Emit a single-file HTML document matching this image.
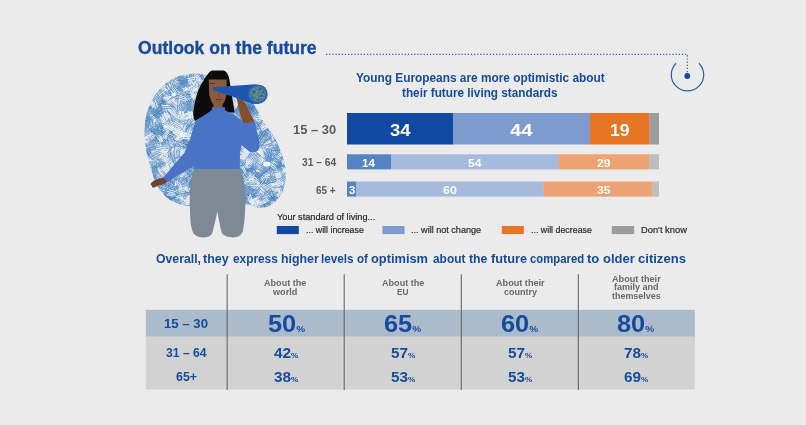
<!DOCTYPE html>
<html><head><meta charset="utf-8">
<style>
html,body{margin:0;padding:0;}
body{width:806px;height:425px;background:#ebebeb;position:relative;overflow:hidden;font-family:"Liberation Sans",sans-serif;}
.t{position:absolute;white-space:nowrap;line-height:1;transform-origin:0 0;}
.b{font-weight:bold;}
.blue{color:#164a9c;}
.gry{color:#5a5a5a;}
.lg{color:#262626;-webkit-text-stroke:0.2px #262626;}
.chd{color:#66686b;}
.w{color:#fff;font-weight:bold;}
.seg{position:absolute;}
.ch{position:absolute;font-size:8px;line-height:8.7px;color:#66686b;font-weight:bold;text-align:center;white-space:nowrap;transform:translateX(-50%) scaleX(0.97);}
.big i{font-size:9.5px;font-style:normal;}
.mid i{font-size:7.5px;font-style:normal;}
</style></head><body>
<svg width="806" height="425" viewBox="0 0 806 425" style="position:absolute;left:0;top:0">
<rect x="145.8" y="336" width="549" height="53.5" fill="#d2d2d2"/><rect x="145.8" y="309.8" width="549" height="26.7" fill="#acbbcc"/>
<defs><clipPath id="bc"><path d="M202.0 74.2C197.1 73.2 195.8 73.6 192.3 73.8C188.8 74.0 184.5 74.6 181.0 75.6C177.5 76.6 174.2 78.0 171.1 79.8C168.0 81.6 165.2 83.7 162.6 86.2C160.0 88.7 157.6 91.7 155.5 94.7C153.4 97.8 151.4 101.2 149.9 104.5C148.4 107.8 147.2 111.0 146.4 114.4C145.6 117.8 145.2 120.6 144.9 125.0C144.6 129.4 144.4 136.5 144.7 141.0C145.0 145.5 145.5 147.7 146.5 152.0C147.5 156.3 148.9 161.7 150.5 167.0C152.1 172.3 153.9 179.1 156.0 183.6C158.1 188.1 160.5 191.0 163.3 194.0C166.1 197.0 168.8 199.5 173.0 201.5C177.2 203.5 181.5 205.2 188.5 206.0C195.5 206.8 205.4 206.8 215.0 206.5C224.6 206.2 238.9 203.9 246.2 204.2C253.5 204.5 254.4 208.3 258.9 208.2C263.4 208.1 269.0 206.6 273.0 203.7C277.0 200.8 280.8 195.9 282.9 191.0C285.0 186.1 285.9 179.7 285.9 174.0C285.9 168.3 284.8 163.1 282.9 157.0C281.0 150.9 277.5 142.9 274.4 137.3C271.3 131.7 267.1 127.4 264.5 123.2C261.9 119.0 260.6 115.5 258.5 112.0C256.4 108.5 255.1 105.8 252.0 102.5C248.9 99.2 245.0 95.8 240.0 92.0C235.0 88.2 228.3 83.0 222.0 80.0C215.7 77.0 206.9 75.2 202.0 74.2Z"/></clipPath></defs>
<filter id="sf" x="-5%" y="-5%" width="110%" height="110%"><feGaussianBlur stdDeviation="0.28"/></filter>
<g clip-path="url(#bc)"><g filter="url(#sf)">
<rect x="140" y="66" width="150" height="146" fill="#dfe6ef"/>
<path d="M239.3 173.3L231.8 179.6M237.3 172.2L228.5 179.8M236.8 170.8L227.8 178.3M276.8 122.2L263.9 131.6M275.7 122.1L265.7 127.8M276.5 118.5L263.6 127.9M291.2 122.4L285.9 128.9M287.8 123.2L282.9 129.2M286.6 122.7L282.2 127.1M285.9 120.4L280.6 127.7M284.5 118.3L279.7 124.8M153.8 96.7L146.1 101.8M152.6 96.0L144.7 101.3M152.9 94.1L146.2 97.8M152.1 92.1L143.6 97.0M150.1 91.4L144.3 95.3M149.8 90.0L141.4 95.5M154.5 210.2L146.3 215.3M154.5 206.9L143.6 215.6M152.5 207.4L141.8 214.4M151.9 206.1L143.2 211.6M152.7 203.5L140.3 211.4M290.8 132.3L290.7 138.6M289.1 128.8L288.9 137.9M287.1 130.5L287.3 138.2M285.2 128.8L285.8 137.4M283.6 129.6L283.8 136.6M281.9 132.2L281.7 139.0M245.6 200.6L252.2 205.2M245.1 201.9L251.0 206.4M246.0 204.5L251.5 208.6M243.2 205.2L249.6 209.0M241.6 206.6L247.6 211.2M190.2 80.7L180.5 85.6M188.4 79.6L178.3 86.0M187.7 78.5L180.0 83.2M187.3 76.7L179.1 81.9M187.1 75.3L176.6 80.7M176.8 193.8L180.3 204.4M174.3 192.0L178.6 204.5M173.1 192.6L176.0 202.7M224.4 138.1L216.5 139.9M225.3 136.7L216.7 137.9M226.3 134.3L216.5 136.3M224.3 133.8L214.6 134.7M278.4 150.6L282.7 155.9M275.3 149.0L280.3 155.1M274.6 150.8L278.9 155.3M274.4 152.9L278.9 157.7M272.8 152.8L278.4 159.2M271.2 154.0L277.4 160.6M276.8 193.0L270.1 200.1M274.6 192.6L269.2 198.5M274.0 189.8L266.9 198.5M271.5 190.7L264.1 198.5M270.5 188.3L262.0 196.9M218.1 164.8L209.8 175.0M217.4 163.3L208.9 174.8M216.2 162.8L208.7 172.3M215.2 161.0L207.1 172.2M214.0 161.0L205.0 171.3M213.9 159.9L203.7 170.5M242.6 71.1L251.8 78.2M240.7 71.5L249.6 79.2M240.9 74.1L250.0 82.1M238.1 74.2L249.6 82.6M155.8 161.7L158.0 172.6M154.3 162.7L156.8 172.2M152.3 163.0L155.8 173.5M150.4 161.8L154.2 173.4M241.9 159.8L253.3 162.8M240.1 161.0L252.2 164.4M240.7 163.0L255.0 166.8M255.2 171.8L266.2 174.2M254.9 172.8L265.8 175.6M254.4 174.0L266.6 178.0M254.3 175.9L266.0 179.2M253.7 178.1L265.0 180.4M253.1 178.0L262.1 181.1M217.9 179.4L212.7 182.2M217.4 178.8L212.6 181.6M216.0 177.1L211.2 179.6M213.9 176.8L208.5 179.1M213.7 174.5L208.1 176.9M213.1 173.8L208.0 176.2M256.4 93.8L247.9 100.7M254.9 92.1L244.7 99.4M254.9 90.2L246.7 96.3M254.5 88.1L244.7 95.9M252.9 87.4L244.6 93.2M252.6 84.9L240.3 93.9M182.2 183.7L175.9 189.0M182.6 181.4L174.8 188.3M180.3 181.6L173.8 187.5M180.4 180.2L173.1 185.2M176.5 180.0L171.0 185.1M177.0 177.7L170.2 183.4M240.0 173.9L229.2 176.5M240.3 172.6L230.5 174.6M239.0 171.3L227.2 173.3M238.0 170.0L229.4 171.4M258.3 189.5L265.0 200.7M256.3 189.0L263.5 202.4M253.9 189.6L261.4 201.8M159.3 73.6L163.2 80.7M158.2 75.4L162.4 83.0M156.9 76.9L161.7 83.5M191.6 89.3L200.6 93.9M190.6 90.2L198.7 94.6M187.7 90.9L198.0 95.6M189.4 93.8L196.9 97.1M273.0 166.6L267.5 171.6M271.0 166.4L265.6 171.7M270.5 165.2L262.9 171.5M269.5 163.5L263.9 168.1M268.9 161.2L263.9 166.5M246.9 193.0L253.2 197.2M244.2 192.7L252.0 198.5M242.8 194.0L250.8 200.0M243.2 196.4L250.7 202.1M243.0 198.0L250.3 204.2M221.7 73.9L227.2 78.6M222.6 75.9L227.7 80.8M221.7 77.6L226.4 81.8M219.9 78.7L226.7 84.7M264.5 169.0L271.2 176.3M264.0 172.0L270.0 177.7M262.4 172.3L267.3 178.0M260.5 174.0L267.7 180.8M162.0 108.7L151.0 117.6M161.8 107.9L149.7 115.8M159.9 106.4L150.0 113.7M275.0 107.5L279.4 113.1M274.1 108.4L278.6 114.1M274.5 111.3L278.0 115.6M273.3 112.7L277.0 117.8M271.9 113.9L275.6 118.7M272.2 136.0L267.6 141.8M269.7 136.8L265.0 142.4M268.2 134.6L263.9 141.4M267.5 133.4L264.2 138.1M265.2 133.0L261.2 139.2M201.4 143.8L205.8 150.1M198.3 143.6L203.1 149.8M196.7 144.4L203.7 153.1M187.1 139.3L183.0 146.0M186.9 136.6L182.6 143.8M186.2 136.0L181.2 141.9M221.6 121.7L224.3 125.0M219.6 122.5L223.3 126.6M219.7 124.8L222.9 129.0M155.9 111.0L150.3 111.8M156.3 109.0L150.3 110.4M155.5 108.2L149.9 108.6M264.6 194.1L268.2 205.7M262.2 193.2L267.2 204.4M260.1 193.6L265.9 205.8M259.9 196.0L263.9 205.4M277.9 198.8L270.3 200.6M278.2 197.6L272.4 198.3M276.7 196.2L271.3 197.1M276.5 194.2L271.4 195.4M277.7 192.4L271.6 193.4M275.5 191.1L269.8 191.9M183.6 148.4L178.4 150.0M184.0 146.0L178.9 148.1M182.2 145.0L178.1 146.4M208.1 153.4L214.8 167.9M208.2 156.4L213.2 169.0M206.7 155.5L210.9 168.6M204.9 156.6L209.5 169.1M203.6 158.8L208.1 168.6M200.7 156.0L207.1 170.9M183.0 175.5L188.2 180.1M182.0 177.3L187.5 181.7M180.1 178.5L184.6 181.9M179.0 179.9L184.6 184.5M178.1 180.7L183.1 184.8M177.0 182.6L182.3 187.0M253.1 170.3L242.2 176.6M253.4 168.0L240.0 175.6M250.9 167.7L239.7 173.3M286.0 112.0L279.5 119.7M286.1 110.4L278.4 117.5M284.9 108.8L277.8 116.2M222.7 202.5L215.2 210.4M222.5 201.6L213.2 210.4M221.4 199.3L212.0 209.1M219.6 199.4L209.6 209.2M217.1 200.1L208.7 208.0M247.5 102.6L255.5 106.7M245.4 102.9L256.1 109.8M243.0 104.0L252.7 108.8M243.8 106.1L253.0 110.5M242.4 107.5L254.2 113.9M152.4 175.8L160.8 178.7M153.3 177.8L161.1 181.2M149.1 179.0L160.0 182.5M170.8 189.9L176.4 196.1M169.0 191.1L174.1 197.0M166.9 190.5L172.2 196.8M166.7 193.6L171.9 199.3M165.2 193.8L171.0 200.2M163.8 194.9L169.5 201.7M188.1 193.3L185.0 199.6M186.9 192.4L183.9 199.1M185.6 191.2L183.1 197.9M194.2 175.6L201.2 178.6M192.0 177.2L200.2 180.2M191.9 179.5L200.5 182.1M189.8 180.0L198.0 183.4M261.5 68.2L272.7 78.5M262.1 72.1L271.1 79.5M260.6 72.2L270.6 81.7M259.4 73.8L268.3 82.1M193.8 150.2L199.3 155.2M193.8 151.9L199.0 157.3M191.8 152.2L196.8 157.7M236.9 188.7L235.6 193.3M235.8 185.2L234.3 190.2M234.6 184.3L232.8 189.4M232.3 185.1L230.3 189.4M279.6 166.8L272.4 170.9M278.1 165.4L272.5 169.1M276.2 164.3L268.6 169.1M264.7 171.7L267.4 177.7M262.7 171.3L265.0 176.7M261.0 170.8L263.8 176.9M147.8 151.8L137.2 152.4M149.0 148.8L136.0 151.1M146.0 147.9L135.5 148.5M147.8 146.1L136.2 146.7M146.2 144.8L137.0 146.0M254.7 134.1L260.1 135.8M253.4 136.0L259.9 137.4M252.4 137.4L258.6 139.5M251.9 139.4L257.9 141.0M252.1 141.1L257.5 142.4M147.0 159.8L156.1 167.7M146.8 162.0L155.6 169.0M143.5 162.1L155.7 170.8M248.3 135.9L242.3 139.5M247.3 134.3L240.9 138.0M246.5 132.1L240.5 136.2M244.3 131.6L238.5 135.3M243.8 129.6L238.4 133.0M248.7 73.7L253.7 75.6M247.8 75.1L252.6 76.6M246.6 76.3L252.9 79.0M234.3 185.9L235.9 192.8M232.4 186.5L234.0 193.6M231.1 188.2L233.1 194.8M184.5 88.1L187.0 97.1M183.3 90.4L185.5 96.9M182.2 90.4L184.5 99.4M180.1 89.9L182.8 97.5M178.3 90.5L181.5 99.1M177.1 90.6L179.6 98.0M276.3 203.9L282.6 214.1M275.9 205.7L281.0 216.9M274.7 208.4L279.8 217.4M209.3 180.7L201.1 187.7M209.0 178.6L197.6 187.7M208.7 177.0L198.7 183.8M208.4 175.6L197.0 182.8M206.3 173.8L196.6 182.1M206.5 171.3L194.7 179.9M193.3 102.6L199.1 107.9M190.6 103.4L197.0 108.3M188.7 104.5L197.2 110.5M188.0 105.9L195.3 112.0M188.2 108.9L194.5 113.8M190.7 100.8L185.9 112.9M188.2 100.2L185.9 109.2M187.0 99.3L182.6 111.0M227.9 112.6L239.4 119.8M225.8 113.2L236.3 120.0M225.0 115.0L235.2 121.6M224.7 115.5L234.0 123.0M265.6 124.8L256.3 129.5M265.9 122.7L257.7 126.6M265.3 120.7L257.5 124.5M263.5 119.8L255.1 123.9M202.8 187.6L195.7 190.5M200.7 186.0L193.8 189.4M201.1 183.9L194.9 186.7M180.5 90.0L168.3 94.4M179.4 88.1L166.6 94.2M179.1 87.3L165.1 92.1M195.6 174.2L194.2 185.2M193.1 171.4L192.2 184.9M191.7 173.2L190.0 182.7M189.6 172.2L188.8 184.9M187.6 172.6L186.3 185.7M190.1 103.1L195.8 108.0M187.7 104.0L193.8 109.0M186.5 104.6L191.2 109.3M185.1 105.2L191.6 111.3M275.3 115.6L267.7 118.9M275.1 113.4L268.3 116.2M275.3 110.8L267.1 114.7M190.6 78.4L192.3 85.8M188.0 78.9L189.6 86.4M186.1 77.3L188.5 85.8M184.2 77.4L186.7 86.4M182.1 76.3L184.5 85.7M180.5 78.1L182.1 87.5M273.7 100.7L281.8 110.4M273.2 103.6L278.8 109.7M270.8 103.3L278.9 112.2M200.0 167.9L194.0 174.0M197.8 166.1L192.0 171.8M198.4 164.4L190.2 171.2M196.6 163.1L189.0 170.7M195.6 161.8L187.7 169.7M192.6 161.3L185.8 168.0M235.0 128.6L227.2 134.2M233.5 127.7L226.6 133.2M233.3 125.6L226.9 130.0M197.1 109.6L203.9 118.4M195.5 108.9L201.1 117.1M194.3 110.1L199.7 118.3M193.9 112.0L198.5 120.1M192.0 112.5L198.0 122.0M234.8 182.7L222.6 185.3M235.1 180.6L222.2 183.7M234.9 178.5L223.9 181.2M258.5 167.9L253.0 172.1M256.9 166.6L251.9 170.0M255.5 165.3L250.2 169.4M255.0 163.8L250.7 167.2M234.4 205.7L230.8 213.8M233.6 202.9L229.3 213.4M231.1 204.1L227.4 213.2M230.4 202.2L226.8 211.9M166.7 185.2L161.5 190.6M163.0 186.0L159.4 189.7M162.9 184.2L158.1 188.9M161.5 182.7L157.4 187.5M160.8 182.2L156.5 186.3M159.6 179.5L155.7 183.0M232.3 84.7L239.5 85.4M231.6 85.6L237.9 86.5M230.9 88.0L238.8 88.2M232.0 89.8L239.9 90.2M230.7 91.7L238.8 92.3M230.8 93.4L239.0 94.0M205.8 86.4L200.8 94.2M205.4 84.8L199.3 92.2M203.2 83.6L197.9 90.4M199.9 84.7L195.6 91.6M200.0 81.3L195.3 88.6M197.6 81.1L191.8 89.4M210.9 130.5L221.0 133.2M211.5 132.8L219.7 134.3M211.4 134.2L219.0 136.6M209.5 135.9L220.2 138.4M157.4 170.5L163.8 180.8M156.5 173.4L163.3 181.7M156.3 175.2L162.7 183.0M154.1 174.8L161.6 184.4M154.1 177.4L159.0 184.5M151.2 177.0L156.1 184.4M222.0 156.0L225.6 166.7M221.3 159.8L224.7 169.8M219.5 162.0L222.9 168.9M217.3 161.1L220.3 168.0M272.4 205.3L267.7 214.3M269.8 206.1L266.1 214.2M268.9 204.8L264.7 212.3M268.5 203.6L262.7 212.6M248.9 165.3L245.7 173.8M248.1 162.6L244.6 174.8M247.1 161.2L242.2 173.0M245.0 162.2L240.9 171.8M242.8 162.1L239.3 174.1M240.4 160.3L237.7 168.9M156.4 195.2L154.7 206.0M154.3 196.8L151.8 207.4M152.8 194.5L150.9 204.2M150.7 194.5L149.1 204.4M149.6 193.2L147.0 206.3M186.7 123.2L181.8 124.2M187.5 120.1L181.4 122.0M187.3 118.5L180.0 120.3M185.8 117.5L180.7 118.4M185.1 115.5L178.0 117.6M185.2 112.8L178.8 114.7M279.5 171.7L272.2 173.4M281.8 169.3L274.0 171.0M279.1 168.2L270.0 170.1M277.9 166.4L271.3 168.2M188.4 192.0L174.8 195.3M185.2 190.8L173.2 194.4M184.1 188.8L174.4 192.5M185.2 186.1L170.8 191.6M183.7 185.8L171.8 189.7M184.0 184.3L170.0 188.2M202.4 131.6L209.7 143.7M200.8 134.5L210.6 146.9M199.7 135.0L206.9 145.8M273.5 159.9L264.9 164.5M275.1 157.8L266.1 161.8M270.9 157.6L264.7 160.9M271.8 155.4L264.6 158.2M232.0 98.0L221.9 100.8M230.7 96.7L219.9 100.9M232.5 95.1L218.1 99.1M230.9 93.5L218.0 97.5M229.9 91.5L218.4 95.4M153.6 81.7L141.7 88.7M152.1 80.4L143.3 86.2M152.1 78.0L142.7 84.3M148.8 78.1L140.2 84.3M146.2 113.7L149.3 120.8M142.5 112.9L147.1 121.6M141.0 113.6L145.5 121.3M140.5 115.3L144.7 124.0M138.0 116.8L143.3 125.7M266.8 88.4L273.4 98.4M266.3 91.1L272.4 100.7M264.7 91.4L271.8 103.0M263.3 91.9L270.1 103.0M192.8 143.0L181.5 146.6M192.3 142.3L182.5 145.4M191.0 141.0L180.1 144.2M189.5 139.4L181.6 142.0M192.0 136.8L181.1 141.0M188.2 135.2L179.7 138.8M173.7 160.6L164.0 167.9M171.9 159.4L164.2 165.0M171.6 158.0L161.2 164.1M170.2 156.2L160.7 162.4M285.4 201.8L289.8 204.1M283.6 202.8L289.1 205.7M283.1 204.3L287.2 206.2M283.0 206.6L288.9 209.4M281.1 206.1L285.8 208.9M247.7 67.9L259.5 71.0M249.5 70.5L259.1 72.7M249.6 71.9L260.1 74.5M247.7 73.7L257.9 76.0M246.0 74.6L258.8 78.9M242.3 100.1L228.0 105.0M239.4 98.1L228.3 102.6M238.9 97.0L229.0 100.6M239.2 95.0L227.3 99.1M238.7 93.4L226.6 97.4M238.0 92.6L225.7 96.4M196.3 161.1L189.5 164.0M194.0 159.9L189.2 162.6M193.9 158.4L189.0 161.0M158.4 194.2L167.0 201.1M158.1 196.5L164.4 201.0M157.4 197.4L164.9 203.4M271.5 174.2L267.1 180.0M268.4 173.3L263.7 179.3M268.2 170.9L264.1 177.4M267.3 169.7L263.0 175.9M265.2 169.9L261.3 176.0M264.5 168.7L260.6 173.2M229.3 201.8L216.9 208.2M228.8 199.6L217.3 206.5M228.0 198.7L216.3 204.9M283.2 151.2L283.4 156.5M281.5 151.5L281.6 156.6M279.3 151.8L280.1 158.7M278.1 151.7L277.9 159.0M254.9 106.4L247.7 111.9M253.5 105.1L247.8 109.7M251.6 103.8L246.4 109.0M249.5 103.8L243.9 108.7M248.9 102.5L243.3 107.5M253.3 110.0L261.6 111.5M252.3 111.4L259.4 112.7M253.7 113.2L260.5 115.2M278.8 69.0L289.2 79.4M276.2 68.3L287.0 78.5M276.9 71.4L286.2 81.2M276.9 74.4L284.7 81.5M285.0 187.0L288.1 195.6M283.6 186.9L286.8 196.7M281.7 186.8L284.7 195.8M279.8 187.9L282.7 195.9M186.1 143.6L190.1 145.7M184.3 144.8L188.1 147.3M183.4 146.6L188.8 149.6M182.3 147.3L187.0 150.1M243.4 170.1L249.3 177.8M240.3 168.8L246.9 178.1M239.4 170.7L244.4 178.0M238.2 172.0L245.1 182.0M236.7 172.8L241.8 181.2M235.6 174.1L242.4 182.4M222.8 175.8L232.4 181.7M220.5 177.5L230.8 183.9M221.0 180.1L230.7 185.1M218.9 180.9L229.8 186.6M221.4 183.9L229.7 187.7M219.4 184.2L227.2 187.9M279.0 102.7L284.4 106.0M278.1 104.2L284.9 108.4M276.1 105.8L282.3 108.6M247.5 201.1L242.8 209.4M246.3 199.0L242.0 208.2M245.0 198.9L240.9 205.8M242.8 199.8L238.9 206.1M205.0 170.5L219.7 174.5M203.6 172.2L217.8 176.0M206.1 173.7L216.3 177.8M204.8 176.0L216.0 179.3M201.9 176.8L215.1 181.0M288.6 144.2L294.3 149.7M287.1 143.7L293.8 151.3M284.7 144.4L292.9 152.3M284.5 146.3L292.5 154.6M284.0 149.0L290.0 155.4M276.0 67.3L285.6 71.1M274.5 66.6L287.7 72.7M274.9 70.1L287.6 74.5M275.5 71.2L287.0 76.7M274.8 73.5L284.0 77.6M273.8 75.1L285.2 80.5M273.7 129.9L277.4 138.8M273.1 132.6L276.0 139.8M271.3 130.8L273.2 137.8M289.4 76.3L282.9 80.1M289.1 74.0L282.5 77.8M286.4 73.3L281.1 76.5M284.5 72.5L280.2 75.4M274.4 168.4L269.5 173.6M271.5 169.5L268.0 173.8M271.1 167.3L267.8 171.0M269.5 166.5L265.0 171.2M266.8 165.7L263.0 170.5M267.1 162.4L262.9 167.5M196.5 135.8L203.1 146.7M194.3 137.8L203.0 148.5M192.5 138.6L200.4 148.8M191.5 139.6L197.5 149.0M190.6 140.7L197.5 152.1M167.1 137.4L169.3 144.7M166.5 138.2L168.2 144.2M164.9 138.5L165.7 143.9M162.5 137.4L163.9 143.9M160.5 140.0L162.6 147.0M204.9 84.8L210.0 96.5M201.9 84.3L207.4 96.6M202.0 87.3L206.3 98.3M200.2 88.5L204.5 98.6M198.4 88.9L203.0 98.0M184.5 179.5L175.5 189.0M182.8 178.8L174.9 187.2M180.4 178.1L172.9 186.5M181.0 174.7L172.3 184.3M179.0 175.2L170.1 183.4M162.0 179.0L173.5 187.1M162.1 181.3L170.5 187.4M161.4 183.6L172.9 190.3M205.4 94.0L209.0 98.2M205.2 95.9L210.0 100.6M204.9 97.6L208.8 102.1M203.4 98.9L207.2 103.2M200.9 99.2L206.0 104.2M286.7 208.6L280.7 213.1M284.7 207.7L279.9 212.2M284.8 205.7L281.1 209.0M166.1 98.0L158.9 105.9M164.0 98.2L157.4 105.4M162.2 96.7L156.7 102.7M159.8 96.5L155.1 102.7M158.9 94.2L154.4 100.4M158.6 91.8L152.7 98.4M211.2 131.3L220.0 136.4M210.5 133.2L219.1 138.5M208.8 134.6L218.4 139.3M210.1 136.8L216.6 141.0M206.8 137.0L215.6 141.6M207.6 140.0L216.5 145.2M145.7 143.1L153.9 144.7M145.3 144.7L153.6 146.0M147.5 146.9L153.6 147.9M145.9 148.3L153.4 150.2M278.1 201.3L268.9 203.1M276.9 200.1L267.5 201.3M277.2 198.2L268.1 199.7M212.8 203.9L216.4 211.1M212.3 206.5L215.0 211.6M210.0 204.4L212.2 209.6M186.9 78.6L191.9 84.2M186.4 81.3L189.9 85.8M184.6 82.1L188.6 86.3M183.3 83.0L187.7 88.2M180.9 83.1L185.0 87.9M180.7 83.9L184.3 87.9M287.1 182.1L289.3 187.4M285.7 183.7L288.2 189.7M283.7 184.6L286.6 190.6M281.2 183.9L283.7 189.5M280.4 185.3L283.6 191.8M260.2 164.5L270.5 171.2M260.2 167.1L267.9 171.8M259.4 169.1L269.9 174.0M258.5 169.5L267.2 175.0M255.1 122.9L262.8 123.3M257.4 124.8L265.5 124.5M255.4 126.1L262.9 126.3M256.0 128.2L264.1 128.5M146.0 106.7L155.6 110.9M146.5 108.1L155.6 112.5M145.6 109.6L153.9 114.1M141.6 110.8L152.6 115.1M272.4 158.7L275.0 164.1M270.6 157.7L273.3 164.3M269.1 158.2L271.0 164.0M250.5 177.3L240.9 184.3M249.8 176.6L242.1 181.7M248.8 174.9L240.6 181.0M248.3 173.0L238.4 180.4M172.9 177.8L179.1 179.2M173.3 178.8L178.5 180.3M171.2 180.7L176.5 181.4M172.3 182.6L177.0 183.7M216.0 167.4L208.4 173.3M214.7 166.1L206.5 173.0M214.7 163.9L206.6 170.3M269.5 160.5L277.9 168.8M268.5 162.2L276.2 170.1M268.3 164.7L275.5 172.7M186.8 166.7L183.6 173.7M186.1 164.5L182.0 173.5M183.9 166.3L180.6 173.2M163.5 111.1L156.0 116.2M161.1 110.5L154.5 114.5M161.1 108.3L153.4 112.8M158.4 107.9L151.9 112.9M175.6 74.9L180.2 77.1M174.0 74.9L179.2 77.6M174.1 77.5L180.2 80.1M173.1 78.8L179.5 81.1M170.9 80.4L176.4 82.4M161.5 132.8L152.1 143.6M159.8 130.0L151.0 142.3M156.4 132.6L148.6 142.2M157.7 128.8L148.3 140.2M154.9 129.8L148.1 137.6M187.0 76.7L181.5 83.2M184.3 77.1L179.5 82.6M184.3 74.7L179.0 80.4M183.7 72.7L177.7 78.3M181.8 73.3L176.5 79.2M245.2 102.2L254.7 104.5M245.1 104.3L254.7 106.7M245.6 106.4L254.9 108.4M244.4 107.9L252.1 110.1M171.2 115.8L176.1 119.8M170.7 117.8L174.7 121.2M170.7 119.9L174.8 123.9M167.8 120.4L172.6 124.6M213.9 92.8L207.7 95.7M212.8 91.0L206.7 93.9M211.1 89.6L204.9 92.8M212.2 127.2L206.2 138.0M211.2 126.6L206.4 136.2M208.5 127.0L204.2 136.4M207.2 126.6L202.9 134.4M205.7 124.8L200.0 134.3M285.0 204.2L286.8 210.1M283.6 204.3L284.9 209.3M281.6 204.3L283.3 210.3M280.3 204.3L282.4 211.5M259.3 164.2L250.0 173.6M256.3 165.9L248.9 171.7M256.4 163.1L248.4 169.7M241.6 154.3L229.4 160.1M239.6 152.9L231.2 157.7M240.4 150.2L228.8 156.5M240.7 147.7L227.9 155.3M238.1 148.7L225.7 154.4M236.0 146.5L225.8 152.4M272.4 168.0L275.7 180.3M271.1 169.6L273.4 179.6M269.2 169.2L272.5 181.0M282.3 106.4L275.6 112.9M280.8 106.1L275.1 111.8M279.8 104.8L274.5 110.0M277.7 103.8L271.9 110.8M276.9 103.0L269.7 110.2M274.7 101.3L267.4 108.2M214.1 191.7L220.5 200.5M211.9 191.7L220.5 203.9M209.3 192.2L217.9 202.9M275.1 150.4L277.2 157.0M272.9 150.9L274.6 157.6M271.1 149.1L273.3 158.0M270.2 151.6L272.0 159.7M267.2 151.5L270.3 160.5M265.8 152.3L268.5 161.2M172.3 118.1L181.5 124.0M171.5 120.4L179.8 124.9M171.7 122.6L180.4 127.2M169.3 123.7L180.0 129.8M157.1 72.2L165.8 80.5M156.6 75.2L164.7 82.8M155.4 75.7L164.1 84.0M155.5 77.6L161.8 85.0M152.0 76.9L159.3 85.3M151.3 78.6L160.9 88.2M146.3 144.0L151.1 151.1M145.2 143.6L149.3 151.6M144.3 146.8L148.9 153.0M143.7 147.2L147.1 153.3M295.1 182.5L287.3 188.0M294.5 180.4L284.7 187.0M293.6 179.7L284.2 185.1M294.3 176.3L283.7 184.3M292.9 176.0L283.8 182.7M291.3 174.9L281.3 181.9M233.8 122.8L229.4 125.5M232.4 121.5L226.5 125.2M231.5 119.6L226.4 122.8M239.2 182.0L251.9 188.8M237.7 182.4L251.4 190.5M237.2 184.8L250.5 191.3M237.3 186.5L250.5 192.8M163.0 66.8L173.9 75.2M162.2 69.1L172.2 76.5M160.9 70.1L171.7 77.6M160.7 72.0L172.3 80.0M159.9 74.1L169.5 80.8M158.1 73.1L166.6 80.3M285.1 153.2L291.2 159.3M285.2 156.4L290.6 161.9M282.7 156.3L286.8 161.1M281.2 157.0L287.1 163.9M281.6 159.6L285.6 164.7M183.4 103.2L191.6 105.8M186.2 105.7L192.5 108.1M184.7 107.6L191.3 109.6M155.9 121.9L154.3 135.2M154.1 122.8L153.2 133.5M153.2 117.7L150.9 133.4M184.6 179.5L194.7 182.9M184.7 181.1L193.5 184.6M184.7 183.2L191.9 185.5M184.3 184.8L191.2 187.6M178.9 202.1L167.8 205.3M180.4 200.1L168.8 202.4M176.9 199.3L168.1 201.2M179.5 196.4L169.5 199.7M230.2 99.6L224.8 105.5M227.7 98.5L222.2 104.1M228.1 95.8L222.2 101.7M226.3 94.8L222.0 99.7M225.5 94.4L220.3 99.6M222.0 94.3L217.6 98.7M170.9 101.4L178.2 106.9M169.7 102.8L176.0 107.6M168.6 103.9L175.8 109.2M257.1 159.5L257.1 168.9M255.6 161.4L255.7 169.0M253.8 160.0L253.4 167.7M252.0 160.7L252.5 170.6M249.7 161.0L250.7 170.6M221.7 180.4L213.9 184.1M219.9 178.3L210.5 184.5M219.0 177.5L210.0 182.2M220.0 175.1L211.0 180.3M292.4 143.7L279.2 150.0M287.6 144.2L278.8 148.9M288.3 142.1L276.6 147.4M229.5 100.0L234.3 111.4M226.7 100.1L233.5 111.5M226.3 101.0L231.3 113.0M225.3 104.5L229.9 114.7M196.2 156.0L199.0 160.5M194.6 155.7L197.8 161.0M192.3 156.2L196.2 161.4M191.6 158.3L195.4 164.1M190.4 159.5L194.7 165.0M273.0 71.2L263.7 77.0M273.0 68.2L262.6 76.0M272.0 66.7L261.2 75.2M191.0 85.1L182.0 89.4M189.2 83.6L179.5 89.1M187.9 83.1L178.1 87.4M186.5 81.6L178.6 85.5M188.1 79.8L180.4 83.3M179.9 133.9L172.0 140.4M179.1 133.4L173.7 137.8M178.0 132.0L172.5 136.4M176.8 130.4L170.9 135.5M174.7 130.0L167.7 134.9M242.9 142.2L230.0 144.0M243.5 139.8L229.8 142.1M240.8 138.5L230.7 140.2M189.2 161.5L195.6 167.3M186.8 162.7L194.2 169.3M187.7 165.8L193.9 171.2M186.7 167.4L192.2 172.6M185.4 168.0L192.5 174.1M182.6 169.3L190.5 176.3M258.9 177.1L260.3 183.1M256.1 174.2L258.6 183.1M254.8 176.5L256.5 183.9M253.1 176.1L255.4 184.1M148.6 112.3L140.1 115.0M149.6 110.4L142.6 113.0M148.5 108.9L142.0 111.5M149.0 107.2L140.7 110.4M193.7 124.1L189.6 135.5M192.2 124.2L188.9 137.1M191.3 121.3L186.9 135.3M188.5 124.7L185.1 135.3M188.1 121.0L184.0 134.7M185.0 120.9L181.7 133.0M190.3 167.7L185.8 170.4M190.0 165.6L184.7 169.4M188.3 164.6L183.4 168.2M187.9 163.1L183.3 165.9M187.0 161.6L181.0 165.2M185.9 159.7L181.4 162.6M157.7 125.8L169.6 130.1M159.2 127.8L167.9 131.0M156.5 128.4L169.0 133.9M155.0 129.3L167.6 135.0M155.5 73.0L149.7 78.3M156.0 71.7L150.1 76.6M155.1 69.9L149.2 74.4M154.5 67.7L147.2 74.4M152.3 68.1L145.0 74.9M195.9 172.7L190.5 180.3M196.2 170.1L189.4 178.4M194.8 169.6L189.0 176.5M161.6 132.1L163.1 138.2M160.0 133.4L162.0 139.4M158.7 134.4L161.3 141.5M270.0 129.0L276.8 137.0M266.3 129.2L274.1 136.4M263.8 129.1L275.2 139.3M264.4 131.9L274.2 141.0M265.1 133.6L272.1 141.2M238.5 77.8L237.9 86.6M237.0 80.6L236.1 89.5M235.9 76.3L234.4 88.6M233.7 78.7L232.9 87.8M257.6 195.8L251.8 198.9M255.3 195.3L249.2 198.5M254.6 193.5L249.0 197.3M252.3 193.5L247.8 196.2M271.0 197.0L272.0 202.9M269.1 197.3L271.1 205.8M268.2 198.9L269.9 205.7M266.3 197.0L267.7 203.4M264.6 197.1L266.6 204.3M263.4 198.7L264.5 205.0M168.5 134.6L156.5 139.3M168.0 133.5L156.2 137.8M165.2 133.1L154.3 136.9M202.4 81.6L202.9 92.1M201.0 82.0L200.3 92.7M198.7 83.8L198.4 91.0M256.7 139.0L250.1 145.7M256.9 137.6L249.6 145.8M254.5 137.0L249.0 143.6M251.8 136.8L246.0 144.0M251.3 135.2L245.4 141.4M249.3 133.5L243.5 140.2M278.4 147.5L266.6 150.0M282.1 145.8L267.8 148.5M279.9 144.7L269.4 145.8M277.7 143.2L267.1 144.4M274.2 186.5L264.8 191.9M271.6 185.7L264.4 189.9M270.4 184.7L263.6 188.8M271.8 182.3L262.6 186.8M271.7 180.4L263.7 184.4M270.0 178.3L260.8 182.7M238.9 164.3L232.6 171.0M238.9 161.3L232.1 169.5M237.0 161.4L231.3 167.5M234.8 161.6L227.9 168.6M235.3 158.8L228.2 167.2M243.5 107.0L233.8 111.7M243.2 104.6L235.1 109.4M243.1 103.2L232.9 108.3M242.2 101.4L230.2 107.1M284.6 206.6L276.7 212.0M284.4 204.3L273.6 213.9M282.4 204.5L273.1 211.3M281.8 202.4L272.0 210.5M279.1 201.5L270.3 208.4M235.9 105.3L228.7 107.9M235.3 104.3L228.8 106.6M234.4 102.7L226.6 105.3M234.4 100.1L226.3 104.2M232.4 99.1L226.2 102.0M234.6 97.7L225.1 100.9M205.2 94.1L210.1 102.5M204.3 96.3L209.4 105.8M202.0 95.9L207.0 105.9M207.9 173.4L214.7 174.3M206.5 175.9L213.3 175.8M206.0 177.0L212.6 177.5M206.6 178.7L212.5 178.8M207.9 180.9L213.7 180.8M150.0 185.3L157.7 191.5M148.1 187.4L156.2 192.4M147.2 188.4L153.5 192.4M145.1 188.8L152.6 194.4M144.6 191.3L150.7 195.3M144.7 192.7L152.7 199.1M267.0 144.8L253.8 146.2M265.3 142.5L254.6 143.1M267.9 140.1L253.7 142.6M267.8 139.6L252.2 140.2M266.8 138.0L255.7 138.8M265.0 135.3L252.0 137.0M268.0 122.4L263.1 125.2M267.1 120.9L262.7 124.2M266.4 119.9L260.3 123.4M193.3 199.9L199.9 202.7M192.2 200.5L197.3 202.8M192.2 202.1L197.1 204.6M190.4 203.1L196.1 206.1M189.1 204.0L195.8 207.3M189.5 205.8L194.0 208.2M240.1 160.8L248.3 172.7M239.3 164.7L245.3 172.3M238.0 165.3L244.8 174.1M236.9 166.1L242.2 173.8M236.0 168.7L242.4 175.8M228.1 161.0L218.2 167.1M227.6 158.2L215.1 165.6M225.4 157.7L215.0 163.9M227.3 155.2L213.9 161.7M224.5 153.8L212.8 159.9M278.7 192.8L269.6 204.5M277.7 192.3L269.5 201.8M277.7 190.9L267.2 201.4M142.8 143.3L149.6 156.5M142.1 144.5L148.4 155.4M142.4 147.2L146.7 157.6M140.3 148.1L145.9 158.4M138.5 148.0L144.7 160.1M138.0 149.5L143.1 161.1M289.6 109.0L290.3 114.5M288.5 109.1L288.7 114.5M285.9 106.9L286.3 114.3M284.0 108.6L284.9 114.8M282.2 108.7L282.9 116.5M281.1 107.8L281.5 114.2M211.9 78.3L204.4 79.5M213.0 76.0L204.1 77.6M210.8 74.6L201.7 75.4M211.9 73.3L202.7 73.8M253.4 139.9L248.4 145.2M252.4 138.4L245.9 145.6M251.0 137.3L244.4 144.1M277.6 93.4L286.5 98.6M274.4 94.7L283.8 98.9M274.6 96.9L282.4 100.5M273.9 97.9L283.3 102.5M163.5 177.3L176.6 183.4M164.7 179.3L174.6 184.4M161.1 180.2L175.1 187.1M162.5 182.8L172.5 187.8M162.1 185.0L172.6 189.9M160.9 187.8L173.2 192.0M234.5 73.6L242.2 77.2M232.8 74.8L244.5 79.4M232.1 75.8L242.5 80.7M230.4 77.0L241.5 82.0M181.7 80.9L185.1 87.0M181.5 83.2L184.0 88.5M179.4 82.9L182.4 88.7M178.8 84.9L181.9 91.2M210.3 128.9L203.2 129.2M209.3 126.8L203.6 127.6M209.5 125.2L203.4 126.0M209.6 123.7L202.5 124.4M209.3 121.7L202.3 122.5M210.4 119.9L201.5 120.5M267.7 86.5L272.6 89.9M264.8 86.2L271.5 90.9M263.9 86.8L269.5 91.0M265.1 89.9L269.7 93.5M262.9 90.0L268.6 94.5M260.8 90.4L267.6 96.0M216.5 206.5L218.9 212.9M214.0 206.9L216.5 212.5M212.7 207.7L214.8 212.5M211.2 209.0L212.9 213.7M209.1 208.7L212.0 215.4M192.5 106.4L186.8 109.0M191.6 106.3L185.0 108.7M191.8 103.7L185.3 106.6M191.3 102.3L185.7 104.4M190.7 100.6L184.3 103.2M230.6 112.4L238.3 117.6M228.3 113.2L236.6 118.5M227.1 114.2L235.0 119.1M275.4 160.9L282.4 164.9M275.0 163.0L282.1 166.8M274.8 164.6L280.5 168.2M277.7 82.5L287.0 89.1M274.1 83.0L287.9 91.0M276.6 86.2L286.9 92.3M275.6 87.5L285.8 94.6M273.3 88.6L285.7 95.8M249.9 90.7L244.0 97.5M248.3 89.8L243.6 95.5M247.6 88.5L241.2 95.5M245.0 88.4L239.3 94.4M244.2 86.8L239.0 92.1M239.8 136.8L242.1 145.5M238.8 138.2L241.1 146.9M237.3 138.3L238.9 146.5M235.8 139.4L236.6 145.7M243.6 185.4L248.4 192.7M241.8 186.3L247.5 195.3M239.4 186.6L245.4 195.4M238.9 187.6L244.0 197.5M213.0 105.0L202.9 110.2M210.5 103.7L201.3 108.3M208.6 103.0L199.6 107.2M208.9 100.4L198.6 105.4M162.5 73.0L169.2 79.8M160.3 74.7L167.9 80.8M160.0 77.2L168.0 83.3M157.9 77.4L165.9 83.9M158.7 79.0L166.5 86.6M233.6 71.4L238.9 74.5M231.8 72.0L238.1 75.8M232.7 74.9L237.4 77.3M230.0 75.7L235.2 78.9M282.3 150.0L273.2 150.6M283.5 148.2L274.7 148.9M281.8 146.1L273.0 147.7M168.3 137.6L176.4 141.5M165.4 138.9L171.8 141.8M164.5 139.6L173.3 144.9M164.0 141.5L173.2 147.3M162.8 142.1L172.0 147.9M197.6 106.4L190.0 111.7M197.4 104.2L188.4 110.5M197.3 102.5L188.1 108.6M194.4 101.7L187.8 106.7M193.4 100.2L186.1 105.2M247.8 82.2L259.9 87.1M248.1 83.4L259.3 89.1M247.6 85.2L258.3 90.2M247.8 86.5L255.8 91.1M199.3 164.9L207.1 171.4M198.7 166.8L206.0 172.6M197.2 169.1L207.8 176.7M196.7 169.9L203.4 176.2M194.7 170.2L202.0 176.8M195.6 172.5L204.0 180.3M260.3 173.9L265.8 176.7M259.9 176.3L265.4 179.1M258.3 177.5L264.2 180.0M256.7 179.3L263.5 182.1M151.3 151.8L155.1 157.0M150.2 152.9L154.2 158.9M148.7 153.9L153.0 159.8M146.2 154.7L149.6 159.0M193.0 111.2L188.2 116.2M192.1 110.8L186.3 115.6M191.9 109.0L185.4 114.0M189.9 107.4L184.3 112.8M187.5 106.9L182.9 111.4M283.7 87.1L289.4 89.3M283.6 89.3L288.1 91.0M282.1 90.3L286.9 92.5M187.0 211.7L177.6 213.5M187.5 209.9L178.0 211.3M187.2 208.1L177.4 209.8M294.6 192.3L289.2 196.7M292.2 191.4L287.6 195.6M291.7 189.6L285.5 194.4M291.2 187.9L285.0 192.0M288.3 187.3L282.7 191.0M290.6 69.7L278.1 75.9M291.5 67.3L277.0 73.0M287.2 67.1L277.4 71.2M286.0 65.3L275.2 69.7M220.7 123.2L219.3 131.0M218.6 123.7L216.8 132.7M217.4 121.8L215.8 128.5M215.0 123.7L213.1 130.6M282.5 186.9L273.7 188.3M283.3 186.0L274.1 187.4M282.2 183.9L274.9 185.6M281.8 182.6L273.5 183.3M282.8 180.5L272.9 182.0M280.8 178.1L274.3 179.5M266.2 139.2L258.6 150.7M263.0 140.7L257.3 148.8M263.0 136.9L255.5 147.8M261.5 134.3L254.6 146.8M259.6 133.9L252.7 146.4M155.8 129.6L159.3 135.8M154.4 129.9L158.2 136.7M152.9 130.8L156.5 137.9M213.9 105.8L222.9 111.3M212.3 106.6L221.2 112.7M212.2 108.4L220.9 115.1M223.1 144.7L217.8 155.5M221.1 143.4L216.6 155.5M219.2 144.8L213.5 156.9M204.6 166.4L200.9 174.9M203.6 164.1L199.4 174.8M200.7 165.3L197.5 176.3M199.5 162.6L196.2 173.8M167.3 138.0L163.2 145.2M164.2 138.2L161.4 144.2M162.9 137.4L159.7 144.1M161.9 134.5L158.1 141.9M143.4 84.0L146.3 89.3M141.3 84.4L145.1 91.1M139.6 84.2L142.4 89.8M138.1 84.4L141.2 91.3M136.9 86.2L139.9 92.3M233.0 111.3L241.4 118.0M231.3 111.8L238.6 118.6M230.2 113.2L238.3 119.3M231.2 115.9L238.8 122.6M228.3 116.0L236.1 122.5M227.6 117.0L236.0 123.9M248.6 194.1L248.3 205.8M246.2 194.5L245.6 205.2M245.2 192.4L244.2 202.3M243.5 191.8L242.4 205.9M242.0 191.5L241.0 203.8M239.6 192.3L237.9 203.4M229.3 144.0L221.1 145.7M229.4 141.9L220.9 143.5M231.0 138.9L222.7 141.8M215.4 197.7L209.4 205.5M216.4 194.3L208.3 205.4M214.2 193.8L205.9 204.6M212.3 192.9L205.6 202.3M209.3 193.7L204.0 201.1M207.6 192.0L202.2 199.9M179.6 198.1L185.6 203.7M179.8 201.4L185.4 205.6M177.8 202.5L184.6 207.2M254.7 138.6L263.6 146.1M252.6 138.8L260.6 144.6M250.9 138.8L259.6 146.7M252.1 141.4L259.7 148.9M250.3 142.8L257.0 149.0M177.5 144.4L190.6 144.6M175.5 146.3L191.3 146.3M178.1 147.5L193.5 148.2M247.2 135.2L247.6 143.2M244.8 135.4L245.4 143.6M243.2 134.3L243.2 143.9M241.3 134.3L241.5 143.5M240.5 133.7L240.3 141.1M237.2 202.8L224.8 207.9M238.4 200.8L227.8 205.7M236.4 200.3L225.7 203.7M235.1 198.6L225.1 202.2M281.2 161.5L286.2 164.8M281.4 164.4L285.8 167.2M280.9 165.7L284.9 168.6M278.4 166.2L284.0 170.3M277.6 168.3L282.0 171.7M162.9 125.3L166.4 135.1M160.6 123.7L164.5 137.1M159.4 124.7L162.0 134.7M157.4 126.1L160.5 136.2M155.5 123.0L159.8 136.8M290.2 122.2L292.9 127.2M288.6 122.3L291.3 127.3M287.6 124.3L290.0 129.0M286.7 126.0L288.9 130.5M156.2 120.2L163.5 121.7M155.7 121.9L164.7 124.1M155.2 123.9L163.5 125.4M155.7 126.0L163.6 126.9M249.8 105.3L261.1 112.3M250.0 107.6L259.8 112.7M249.6 109.6L258.2 113.6M254.6 143.0L246.5 146.7M251.6 142.1L245.2 145.4M254.0 138.5L246.0 143.0M251.5 137.5L243.6 142.7M212.5 199.8L215.2 204.1M210.7 199.4L213.6 204.0M209.4 200.5L213.2 205.9M207.9 201.3L210.8 206.0M206.7 201.8L209.5 206.1M153.7 166.1L156.3 180.3M152.2 167.6L153.9 179.9M150.5 166.9L152.4 182.5M148.2 167.6L151.9 182.6M294.5 73.6L283.3 79.4M294.4 71.5L283.9 77.2M292.7 69.9L281.6 76.7M292.8 68.6L282.0 75.0M153.7 74.8L163.2 78.1M153.1 76.2L161.5 80.3M152.4 77.7L160.8 81.8M153.1 80.1L160.3 83.6M151.4 81.1L160.4 85.0M262.7 105.5L264.9 112.0M260.4 105.9L262.4 111.2M259.1 108.5L261.9 115.1M257.1 107.8L259.2 113.1M255.0 108.3L257.5 113.8M162.8 171.7L168.2 177.7M162.3 173.0L167.2 178.4M161.6 175.0L166.1 180.7M158.2 173.4L164.2 180.2M232.1 151.6L240.8 159.9M230.8 152.9L239.2 160.9M230.5 155.1L237.9 162.1M173.2 73.3L170.0 83.4M172.3 71.5L168.3 84.6M170.4 71.1L167.2 82.5M168.4 72.1L164.9 85.5M167.4 72.4L163.1 83.7M280.6 158.0L283.8 163.3M279.7 159.5L283.1 164.5M278.0 159.6L281.3 164.9M277.4 162.0L280.5 166.6M275.6 162.5L279.1 168.8M213.1 207.0L209.5 212.2M211.6 205.6L207.1 211.5M210.2 205.8L206.2 210.7M210.0 202.5L205.3 209.2M208.7 202.1L204.3 208.1M205.8 202.9L202.0 207.6M156.7 78.6L143.5 85.0M155.9 76.5L142.8 82.9M156.5 74.2L142.4 81.3M154.9 72.3L141.6 80.1M154.5 71.0L142.9 78.6M281.6 82.6L289.6 86.8M280.5 84.1L286.5 87.4M279.3 85.8L286.6 89.1M160.3 87.7L154.4 93.8M157.9 87.2L152.1 93.3M159.7 83.9L151.8 90.9M156.0 84.4L149.3 90.6M155.8 81.5L148.6 89.2M151.5 119.2L143.3 125.6M151.7 116.1L140.6 125.9M149.3 115.6L138.6 125.8M150.7 113.4L138.3 123.4M218.3 158.2L217.9 165.6M216.8 157.2L216.7 165.3M214.8 159.6L214.9 167.7M284.7 166.6L272.2 168.3M284.1 165.2L272.4 166.4M284.6 163.7L273.5 164.5M281.8 162.4L271.6 163.4M285.9 160.5L272.2 161.5M280.7 158.9L271.7 160.0M231.5 93.9L226.1 97.2M231.9 92.5L227.8 95.0M230.7 90.9L224.1 94.4M229.9 89.7L223.6 93.0M229.3 87.3L223.7 90.5M226.8 88.0L222.3 90.6M202.4 107.5L206.8 112.9M201.6 109.2L207.0 114.7M200.8 109.8L206.1 116.2M198.0 110.0L202.4 114.4M196.6 111.2L201.6 117.1M196.4 112.9L201.7 118.9M223.2 185.9L216.3 195.0M221.9 185.0L217.2 192.4M221.6 183.4L215.3 191.8M220.2 183.2L213.7 191.1M217.9 181.5L211.9 191.2M253.3 167.9L256.8 174.4M251.2 167.5L254.7 175.2M250.8 171.0L253.6 177.9M249.5 92.6L261.0 99.0M250.3 95.4L260.4 101.6M249.9 97.1L259.0 103.4M248.5 98.3L257.0 104.2M247.1 99.9L255.5 105.7M249.6 143.0L239.5 151.6M247.3 142.9L239.3 150.8M246.0 141.9L238.1 149.1M244.4 141.7L237.5 147.9M177.4 154.8L185.5 160.0M177.3 156.5L184.6 161.9M176.7 158.0L182.2 162.5M256.9 173.2L268.7 178.4M254.6 173.5L266.5 180.6M252.6 175.0L265.6 181.9M253.5 177.4L266.7 183.5M268.5 93.6L259.6 93.8M268.6 92.1L260.9 91.8M270.7 89.3L260.3 90.3M271.7 87.6L260.9 87.9M270.0 86.4L259.8 85.9M240.5 186.5L231.2 193.4M239.0 185.9L229.7 191.9M238.9 184.0L228.9 190.1M238.5 182.0L226.5 190.3M238.4 180.6L226.7 187.8M234.0 171.8L241.7 178.3M232.8 173.7L239.5 179.6M229.6 173.6L237.5 179.5M229.7 175.4L237.7 181.6M227.9 177.6L237.2 184.7M278.1 121.9L272.8 130.5M276.9 120.7L271.3 129.6M274.7 120.3L270.0 128.0M138.9 127.8L146.1 130.1M136.7 128.8L146.5 130.9M136.8 130.8L144.4 132.5M135.1 132.1L143.8 134.8M250.2 187.1L246.7 200.2M246.7 189.5L244.4 199.3M246.4 187.5L241.7 201.0M244.7 185.3L241.5 198.9M241.9 188.9L239.6 198.7M263.2 129.8L274.5 138.9M263.0 133.0L272.3 139.2M259.8 132.6L270.4 140.4M207.5 137.6L214.4 137.8M208.0 139.1L215.1 140.0M206.2 141.3L214.4 141.4M251.9 69.1L251.0 82.5M250.1 69.4L249.4 82.9M249.4 68.0L247.6 81.8M246.6 69.6L246.6 81.7M246.0 67.6L244.4 79.9M242.6 71.3L242.6 80.8M256.3 115.3L244.6 120.0M253.0 114.2L244.8 117.9M253.3 111.6L241.8 117.2M251.9 110.0L242.3 115.3M251.8 108.7L240.4 115.4M231.7 165.7L228.6 170.0M228.9 165.0L226.8 169.0M228.4 163.2L225.1 168.3M227.6 161.7L224.5 166.5M224.0 163.0L221.1 167.4M223.5 161.3L219.6 167.1M189.9 72.2L193.8 82.5M187.8 72.1L191.6 83.3M185.8 71.1L189.6 82.3M183.9 72.8L188.0 83.6M182.6 74.9L185.1 82.5M210.7 190.6L206.5 196.6M208.2 190.0L205.3 194.8M206.8 189.3L203.8 194.1M204.4 189.4L201.2 194.0M204.8 187.7L199.9 193.8M228.2 154.4L232.2 158.8M228.2 156.1L232.1 160.6M226.2 156.8L231.7 162.8M226.4 158.9L229.8 163.0M224.0 160.0L228.7 164.9M216.5 145.9L220.5 152.7M214.2 145.2L218.7 153.6M212.7 147.5L217.6 154.1M259.2 122.0L255.0 126.7M259.3 119.2L254.5 124.6M256.1 120.2L251.9 124.8M255.8 117.2L251.3 121.9M253.0 99.0L259.2 107.3M251.4 100.6L256.2 106.1M249.6 100.2L255.0 108.2M207.0 174.8L199.2 176.1M207.0 173.2L198.6 174.3M207.6 171.6L199.6 172.8M207.1 170.5L200.0 171.1M205.7 168.1L199.5 168.9M270.8 167.8L261.3 174.2M270.7 165.1L261.9 170.8M269.1 163.6L259.7 171.0M266.8 163.6L258.9 169.4M266.9 160.6L255.4 169.6M264.7 133.7L259.1 142.4M263.2 133.3L254.8 145.4M260.9 133.1L254.3 142.4M155.6 178.0L150.2 184.4M155.9 175.2L151.0 181.1M154.3 175.3L148.8 181.7M152.1 175.1L146.9 180.9M151.6 172.9L147.3 178.5M150.4 170.9L145.0 176.6M244.2 107.9L237.3 117.0M241.4 108.3L234.3 117.6M240.9 105.5L234.6 114.3M239.2 105.7L232.5 114.1M171.1 152.2L175.8 160.4M169.8 153.0L174.6 161.7M168.8 155.0L175.4 165.4M199.2 66.4L209.6 76.0M195.3 67.3L208.0 76.2M195.1 69.3L207.2 78.1M196.3 72.3L205.0 79.5M195.3 72.5L204.9 81.1M153.1 94.6L156.9 100.7M151.8 95.3L155.9 101.6M150.7 97.4L156.3 104.3M156.2 103.2L166.5 108.6M156.0 105.7L164.6 109.5M155.7 107.1L165.1 111.8M154.6 108.6L163.0 111.9M172.7 105.2L177.5 111.8M170.6 105.3L177.9 115.1M170.6 108.5L176.5 116.3M241.0 153.6L235.8 158.5M241.4 151.1L234.6 157.0M239.1 150.7L233.6 155.8M237.8 150.0L231.9 154.9M173.8 68.0L172.7 73.3M172.8 67.7L170.7 74.3M171.3 67.0L169.7 72.7M290.6 131.5L288.5 136.6M288.0 131.7L285.7 137.4M287.7 129.2L284.5 135.0M285.1 130.1L282.5 136.9M284.3 129.0L281.7 134.9M164.6 153.3L156.2 155.6M162.6 151.8L153.4 154.2M161.7 150.2L154.1 152.5M162.9 148.6L154.7 150.2M161.4 146.5L154.6 148.3M185.4 146.8L178.8 152.0M182.3 146.3L176.9 151.5M183.2 143.8L177.2 148.8M283.8 138.4L280.0 143.9M282.2 136.7L279.2 140.8M280.9 136.5L276.7 141.5M279.4 135.6L275.7 140.1M238.0 130.4L237.0 135.5M236.5 131.9L235.0 138.4M234.9 131.3L232.9 138.0M232.9 130.4L231.6 137.2M284.6 97.0L281.6 105.2M283.1 96.6L280.2 105.3M281.5 96.0L277.5 106.2M279.4 96.3L276.3 105.7M184.3 100.5L184.0 112.5M184.2 99.2L181.7 113.9M182.2 99.7L180.8 110.9M180.6 99.6L179.0 112.3M178.0 99.2L177.4 111.2M242.8 133.2L238.6 136.1M240.9 132.3L237.5 135.3M240.6 130.3L236.0 133.6M183.4 87.5L178.2 93.0M181.2 86.5L175.9 91.5M180.7 84.1L174.2 91.5M179.1 83.3L173.1 90.2M178.2 83.3L171.1 90.0M198.1 125.1L205.9 126.1M195.9 127.0L205.2 127.2M195.9 128.1L204.8 129.0M152.8 120.1L151.7 132.4M151.1 121.5L150.0 130.2M148.8 121.7L148.0 133.5M283.2 84.9L287.1 90.8M280.8 85.2L285.0 90.5M280.3 87.4L284.5 93.5M278.4 88.5L282.4 94.1M277.9 90.5L281.5 95.8M285.7 130.0L288.1 135.2M284.8 131.8L287.7 137.7M283.0 131.8L285.6 137.1M196.2 120.4L188.7 129.1M194.8 117.8L185.7 129.9M193.5 116.5L186.3 126.7M191.6 115.6L184.1 126.2M189.1 109.6L179.7 117.3M187.4 108.7L180.6 115.7M186.0 107.8L176.6 116.5M184.3 107.4L175.9 114.7M182.8 106.4L176.0 112.4M144.2 121.8L155.4 129.5M142.3 122.3L153.1 131.4M141.0 123.7L152.8 132.5M139.7 125.1L151.3 133.6M139.6 126.9L148.3 134.0M138.3 129.4L146.3 135.2M141.2 85.9L148.1 86.4M140.3 88.1L150.0 88.2M142.3 90.0L151.8 90.1M169.3 91.5L162.7 96.1M166.4 91.0L159.7 96.2M164.5 89.5L159.5 93.5M165.3 86.9L159.6 91.0M163.4 86.1L158.4 90.6M164.7 83.5L157.6 89.3M231.6 176.9L228.4 183.3M229.9 176.6L225.6 183.1M229.5 173.9L225.5 179.6M217.9 192.2L204.3 196.1M217.6 190.5L205.2 194.1M217.5 188.8L206.8 192.0M216.8 187.2L205.5 190.5M214.3 186.3L203.3 190.1M215.0 184.1L202.6 188.8M270.5 193.3L263.8 196.6M271.6 190.8L264.6 194.1M270.4 189.9L264.4 192.7M208.1 103.4L215.2 109.8M209.0 106.0L216.1 112.4M206.3 105.9L213.0 112.4M206.9 108.8L214.3 115.4M204.7 109.7L213.4 116.3M203.6 109.8L210.7 115.7M247.5 180.3L259.1 181.0M246.4 182.9L256.7 183.0M246.0 184.1L257.8 185.0M247.9 186.8L257.6 186.5M213.5 70.1L202.6 77.7M211.4 69.6L201.6 76.6M211.5 67.1L200.8 75.3M208.7 67.1L200.6 72.9M206.2 66.5L198.3 72.1M202.9 169.1L198.5 176.0M200.7 169.1L196.0 175.6M198.4 169.2L194.1 176.0M197.8 166.4L193.4 172.1M175.8 192.5L166.1 193.7M175.8 190.1L163.6 192.6M175.5 188.4L166.5 190.6M222.5 154.1L215.9 160.7M222.8 150.9L215.2 158.1M221.9 150.0L214.7 155.7M221.0 148.5L213.3 154.4M217.5 147.8L211.8 153.3M240.2 136.6L236.3 149.5M240.1 135.8L235.0 146.7M237.2 137.3L232.9 148.7M235.3 136.4L231.9 145.6M175.2 193.9L166.9 201.6M174.1 192.5L165.7 201.0M173.9 191.0L166.3 198.4M173.0 189.9L162.4 198.3M172.3 187.2L163.9 194.7M247.9 103.6L253.9 111.2M245.1 102.5L253.3 114.7M244.3 105.1L250.8 113.6M243.2 107.4L251.4 117.6M241.3 107.6L250.3 118.2M197.3 145.1L200.9 159.0M194.6 145.8L199.1 156.9M193.6 147.2L197.2 157.0M191.7 146.5L194.9 156.9M214.1 180.9L203.4 185.6M211.7 179.7L203.3 183.8M211.5 178.4L202.2 182.8M209.2 177.5L200.9 180.9M208.9 176.7L199.6 180.2M209.8 173.0L200.7 176.9M237.3 200.7L226.9 207.7M234.9 200.2L224.6 206.1M234.6 198.3L223.7 204.4M207.8 112.9L195.0 119.6M206.2 112.5L195.2 116.5M204.3 110.7L194.9 114.8M205.4 107.8L191.7 115.1M203.2 108.0L193.3 112.4M197.7 130.0L209.7 137.4M198.0 131.4L209.9 139.2M199.0 134.3L208.5 139.9M196.4 134.3L207.7 141.2M205.5 156.9L207.1 160.9M203.7 156.8L205.4 161.8M201.1 156.0L203.4 161.7M225.4 109.1L231.3 110.2M223.7 111.5L229.5 112.3M224.4 113.6L230.9 114.5M223.8 114.9L230.1 116.0M221.6 116.4L227.5 117.7M222.2 117.4L228.6 118.9M210.1 182.0L214.0 190.0M208.5 181.7L211.4 189.5M206.4 182.7L210.9 192.4M205.7 184.5L208.7 192.4M173.8 194.1L179.7 194.1M172.8 195.6L181.2 195.7M172.7 197.2L179.1 197.7M152.6 189.2L147.6 194.2M151.8 187.3L146.2 193.1M150.6 186.8L145.3 191.5M150.8 183.9L145.5 189.1M149.0 182.8L141.7 190.5M212.1 194.4L212.3 205.2M210.3 193.1L211.3 203.1M208.8 195.7L209.1 204.2M206.5 193.1L207.2 203.9M205.6 194.8L205.7 204.9M140.9 167.3L151.5 171.4M142.4 169.7L153.7 173.5M140.0 170.3L151.5 175.2M138.9 171.7L151.2 176.2M141.3 175.3L151.3 179.1M208.6 85.6L209.8 97.5M207.2 86.1L207.4 99.2M205.2 87.8L205.6 97.8M238.2 110.4L246.8 121.4M237.5 111.0L243.2 119.7M235.4 110.9L242.3 120.9M150.3 190.4L157.7 197.9M148.9 191.2L156.7 199.8M148.6 194.5L157.6 203.1M147.9 196.8L156.1 203.9M146.5 197.3L153.8 203.8M143.9 197.6L152.6 206.0M232.4 187.5L231.2 194.4M229.9 187.9L229.0 194.9M228.3 188.7L227.0 195.4M226.2 188.3L225.7 194.4M224.6 187.2L224.0 193.3M156.7 174.6L152.2 184.4M156.3 173.1L151.9 182.9M153.3 174.3L150.0 183.0M152.6 172.1L146.9 185.3M150.8 170.8L146.5 181.9M157.2 130.5L165.6 133.4M157.0 132.2L166.4 134.7M155.3 133.7L162.5 135.8M191.1 64.6L193.8 74.5M189.3 66.0L191.9 77.0M187.8 67.6L190.2 77.7M185.7 67.3L187.9 77.4M184.2 68.4L187.2 77.4M278.7 76.4L274.1 82.5M278.5 73.9L273.8 80.3M276.3 73.9L271.3 81.1M274.5 73.9L269.6 80.7M214.6 204.9L209.8 207.6M215.6 202.8L210.7 205.7M213.0 202.2L209.0 204.5M212.6 200.0L209.0 202.9M210.0 199.2L206.0 202.0M210.4 198.1L205.4 201.7M218.1 138.2L226.0 149.5M217.0 139.1L223.5 150.9M215.0 140.1L222.7 150.9M213.7 140.7L219.3 150.2M155.0 132.1L159.6 143.4M153.2 132.0L159.5 145.6M151.8 133.5L158.0 147.3M151.4 134.2L155.5 148.7M167.0 169.3L160.8 171.4M166.7 166.7L160.2 169.0M165.5 165.5L158.9 168.0M165.2 163.5L157.8 166.2M167.7 161.8L160.0 164.6M219.0 69.1L219.3 82.4M216.6 69.8L217.8 82.7M215.5 70.6L215.4 82.9M212.9 69.4L213.7 81.6M234.1 115.0L226.6 127.2M232.0 114.7L226.2 123.5M229.6 113.4L224.7 123.9M251.2 137.2L256.5 148.4M249.4 138.8L253.5 147.6M248.6 141.7L253.2 150.9M246.3 140.8L251.7 150.9M174.4 193.2L178.9 200.1M173.0 194.6L177.9 201.7M173.0 196.1L176.7 203.5M270.9 180.3L263.1 182.6M270.1 178.5L263.5 180.8M271.3 176.3L262.4 179.8M220.5 81.2L229.6 89.2M220.6 81.8L227.0 88.0M219.0 83.7L225.5 89.3M217.9 84.9L225.0 91.3M217.2 87.2L224.0 93.4M214.1 86.8L223.0 95.5M275.0 81.6L282.6 89.5M272.1 81.4L280.6 89.4M270.5 82.9L279.2 90.1M269.4 84.1L276.7 91.2M235.5 83.0L227.4 89.9M236.2 80.0L225.9 89.0M232.9 80.4L224.5 87.7M233.5 78.0L225.0 86.2M234.2 188.3L229.5 194.8M232.2 187.4L226.0 197.4M230.8 187.4L224.6 195.9M229.1 186.0L222.4 195.6M238.3 182.2L231.5 186.6M235.5 181.6L227.3 186.5M236.2 178.6L228.0 183.8M233.8 178.3L227.3 182.4M233.5 175.9L226.5 180.5M231.8 176.2L225.1 180.1M180.4 93.3L171.4 98.9M178.3 92.4L169.5 99.2M176.7 91.9L169.3 96.7M177.4 89.3L168.3 96.1M174.7 88.5L168.4 93.4M177.5 207.9L172.2 213.9M176.5 206.3L171.2 213.1M176.1 203.8L171.1 210.7M172.9 205.8L168.8 210.8M171.8 204.3L167.0 209.3M283.3 136.7L291.3 145.6M282.7 138.4L289.7 144.9M280.6 138.3L288.3 147.3M280.5 141.5L288.5 148.8M278.8 141.6L286.1 149.5M240.5 105.1L248.3 114.0M238.7 106.8L246.9 115.0M237.1 108.1L245.6 116.2M236.8 109.9L245.1 118.0M232.6 110.0L243.8 119.7M247.3 128.2L254.9 135.3M244.6 128.7L253.8 136.8M243.3 130.7L254.4 138.6M243.7 131.5L252.2 139.4M199.6 90.8L197.0 96.2M199.0 90.9L194.5 97.6M196.1 91.0L193.1 96.3M194.9 90.0L191.6 95.3M194.2 87.9L189.7 95.4M191.7 87.1L186.9 94.5M151.8 120.2L144.2 129.1M150.7 117.9L145.5 125.4M149.8 117.4L142.1 126.4M164.8 89.8L157.4 95.5M164.8 88.4L156.6 93.5M163.8 87.0L155.2 92.7M161.8 85.7L153.5 92.2M161.6 83.8L152.5 89.3M163.0 101.3L166.2 107.9M161.6 102.8L164.2 108.3M160.2 103.1L163.0 110.4M159.0 104.4L161.9 111.6M221.5 161.8L226.7 170.9M219.8 162.3L224.7 169.9M217.8 162.4L224.3 173.5M216.1 163.2L222.5 174.9M285.1 164.8L275.1 167.8M285.9 162.7L273.5 166.3M286.1 160.0L274.9 164.3M284.0 159.5L275.1 163.0M280.4 135.5L283.5 146.4M278.3 136.9L280.1 145.3M276.8 138.0L279.5 145.9M275.4 137.4L277.8 147.2M273.5 136.6L276.5 146.7M270.8 138.9L274.1 149.1M225.6 74.8L228.2 84.8M224.2 76.0L226.4 84.1M222.4 77.5L224.9 84.4M220.4 75.8L223.0 84.4M219.0 79.1L220.7 86.4M222.7 70.3L224.4 77.1M221.2 70.1L223.0 78.0M219.1 71.0L221.2 78.4M217.4 70.5L219.5 78.0M215.0 70.5L217.4 77.5M269.6 100.8L274.0 107.6M267.5 101.7L272.6 109.2M266.1 102.7L271.5 109.6M218.0 200.8L222.0 204.5M216.0 200.5L221.4 205.9M215.3 202.1L219.8 206.6M214.6 204.6L219.2 208.2M213.5 206.0L217.8 210.0M155.4 107.1L149.7 108.6M156.9 106.4L148.7 107.8M155.1 104.6L147.8 105.9M153.6 102.7L147.4 104.1M154.9 101.4L148.8 102.2M154.8 99.6L148.0 101.1M148.6 169.4L140.0 175.6M147.6 168.6L140.7 173.0M147.8 167.0L137.6 172.9M145.8 166.5L136.7 172.3M182.7 92.8L184.6 100.1M180.0 92.8L182.5 100.2M179.4 94.9L180.9 101.1M177.1 93.7L178.6 99.4M175.6 95.1L177.6 102.5M174.1 94.3L176.0 101.6M184.0 74.3L177.9 81.8M185.1 69.9L177.6 80.9M183.9 69.8L174.0 80.9M181.8 68.8L174.7 77.8M180.4 67.2L172.5 78.6M180.5 65.6L171.4 76.4M191.7 172.2L184.0 176.3M192.0 170.4L182.3 175.4M189.8 169.6L180.5 174.7M216.3 107.9L212.5 116.1M215.1 107.7L210.8 115.8M213.0 108.0L209.6 115.2M240.1 178.6L246.6 186.1M238.6 180.1L245.4 187.5M236.9 180.3L241.8 185.9M258.4 153.0L248.7 162.1M256.1 151.7L246.3 163.1M254.6 150.5L245.3 162.0M252.3 150.7L245.2 159.9M190.8 93.5L195.5 101.7M187.4 92.9L195.3 103.8M186.7 94.9L193.7 104.7M186.0 96.6L191.0 103.8M182.6 95.0L189.1 106.3M204.9 153.9L190.3 156.7M202.3 153.1L191.4 155.3M203.5 151.2L190.5 153.0M204.2 148.9L189.4 151.6M200.4 147.8L188.9 150.3M200.9 145.4L190.9 146.7M253.7 123.6L246.7 127.3M253.9 123.1L245.2 127.5M252.9 120.9L243.9 125.5M251.7 119.6L241.8 124.9M252.1 117.7L241.4 122.5M251.3 116.7L242.9 121.1M222.0 87.4L229.9 92.7M218.5 86.4L228.2 93.7M218.4 88.0L225.7 93.8M218.2 89.7L227.1 96.2M290.3 81.5L285.7 88.3M289.8 78.9L283.7 87.5M287.6 78.5L283.5 84.7M286.8 77.5L282.1 84.2M250.6 191.5L242.5 197.5M252.3 188.6L240.5 197.0M250.0 188.1L240.7 194.8M249.6 185.3L238.9 193.8M255.6 152.3L267.5 161.5M253.9 154.1L264.6 161.9M256.0 157.9L264.2 163.9M254.1 158.4L264.2 165.6M251.8 158.0L261.4 166.1M282.5 116.4L274.6 119.1M283.6 114.5L272.6 117.6M280.5 113.2L273.1 115.8M279.6 111.0L271.0 114.6M176.5 185.8L180.6 200.0M174.6 188.1L178.4 199.9M173.6 188.5L176.4 200.2M171.9 189.8L174.5 200.7M169.2 189.5L172.9 200.0M278.6 97.8L284.3 101.7M277.1 99.0L283.1 103.0M276.3 100.8L282.6 105.2M275.6 101.7L280.1 105.5M274.0 103.5L279.3 106.7M228.1 158.8L233.2 161.9M228.3 161.2L232.4 163.9M228.2 163.1L232.8 165.8M209.8 156.2L214.8 166.1M208.7 157.7L211.2 165.3M207.1 158.0L209.7 165.9M205.2 157.3L208.9 168.3M203.1 160.5L206.8 167.8M286.6 158.8L280.7 164.4M286.4 156.2L279.4 164.4M286.1 154.7L279.1 161.7M146.4 107.1L153.5 108.0M147.1 109.4L153.9 110.1M145.1 110.6L152.1 112.0M145.1 112.7L154.4 114.0M143.4 113.5L153.8 115.5M143.4 115.4L152.2 116.8M273.2 90.6L283.9 102.1M271.4 91.0L281.0 103.4M270.4 93.4L278.3 102.2M269.7 95.3L279.6 106.8M223.7 182.1L215.0 188.4M224.1 179.2L213.8 185.7M222.5 179.2L213.3 183.9M223.1 176.4L212.0 183.2M220.6 175.9L212.1 180.9M219.2 174.1L210.2 180.0M151.6 120.0L145.8 126.5M150.7 117.9L143.9 123.6M150.0 116.6L141.1 124.6M148.4 115.4L141.7 121.9M147.1 114.7L140.7 121.7M146.3 113.3L137.8 120.6M211.8 102.6L206.0 108.0M210.7 99.9L205.2 106.1M208.2 99.5L201.7 107.2M207.1 98.5L201.4 104.7M207.0 96.9L201.5 102.6M203.5 96.3L198.3 102.0M199.3 184.7L193.2 191.5M199.0 182.5L191.8 191.1M199.2 180.5L190.7 189.7M197.7 180.3L189.6 187.6M197.5 177.5L188.1 187.1M195.2 177.4L189.5 184.3M276.8 203.5L272.4 218.1M275.5 202.0L272.3 217.2M273.3 204.5L270.6 214.8M272.7 202.0L267.7 216.1M265.7 84.9L275.0 88.7M265.1 85.3L276.2 91.2M266.4 88.0L275.8 92.6M266.1 90.2L274.0 93.4M262.3 89.7L274.1 94.3M231.9 189.2L224.7 195.1M228.7 189.8L223.0 195.5M227.1 188.9L222.3 193.7M226.5 187.0L220.9 192.5M225.8 185.3L219.3 191.9M174.8 126.2L180.8 130.4M174.6 128.4L179.9 132.3M173.3 128.6L177.8 133.0M203.4 180.2L207.5 184.1M202.3 181.4L207.2 185.6M200.9 182.5L206.7 188.5M194.3 91.7L202.1 96.0M192.1 91.9L199.9 95.1M191.3 93.9L198.2 96.6M192.1 95.7L199.0 99.5M189.7 96.4L197.7 99.6M189.1 98.6L196.4 102.4M255.6 92.0L268.7 93.8M257.1 94.3L266.2 94.7M255.8 95.8L268.6 97.5M224.2 155.3L214.9 158.8M225.4 152.9L213.8 156.9M225.0 151.1L213.8 154.8M155.3 110.6L163.2 112.2M156.1 112.7L163.3 113.8M155.5 113.7L162.1 115.3M154.5 115.5L160.8 117.0M154.2 116.4L161.4 118.4M153.6 117.5L161.6 119.9M284.7 95.5L277.8 106.1M284.5 93.2L276.3 104.2M282.0 93.4L275.7 103.2M218.6 112.2L228.8 118.4M216.3 112.8L225.6 119.5M216.4 115.1L225.0 120.4M216.4 117.2L225.8 123.4M215.2 118.0L225.7 125.2M212.5 118.8L221.2 125.2M253.3 205.2L247.1 208.2M251.0 204.9L245.0 207.2M249.8 203.4L245.3 205.4M179.9 147.1L179.4 156.3M178.4 147.8L177.9 157.2M176.8 148.2L175.9 158.1M174.5 146.4L174.3 156.0M146.1 114.2L149.9 118.5M144.3 113.9L149.0 120.0M143.6 115.7L147.4 120.8M141.6 116.2L146.0 121.3M141.5 118.2L145.4 122.9M252.0 101.9L245.1 110.9M251.6 98.7L242.6 112.0M248.9 100.5L240.4 110.9M247.6 98.0L241.7 107.1M246.2 97.3L238.3 110.0M193.5 169.8L187.1 173.2M193.2 167.6L183.5 172.9M192.5 166.9L184.7 170.3M267.2 71.6L276.9 80.8M266.7 73.4L276.1 83.1M264.0 73.4L275.2 83.9M288.2 169.7L292.6 181.4M287.6 171.6L290.7 180.6M285.1 171.0L289.3 180.5M283.8 172.9L287.3 181.8M281.4 171.5L286.9 183.0M280.8 173.3L284.5 182.7M257.8 128.8L250.9 133.9M257.3 127.2L251.3 131.1M254.8 127.3L248.7 130.9M255.1 124.5L246.1 130.6M254.1 124.1L245.6 129.3M218.3 170.9L216.0 177.5M217.1 171.0L214.1 177.0M215.3 170.5L212.9 176.1M165.1 156.0L168.2 163.8M163.3 154.6L166.0 161.9M161.6 156.5L164.4 163.5M160.8 159.0L162.9 164.9M159.3 159.0L161.3 164.7M157.9 159.3L160.8 166.4M261.0 69.7L266.4 74.4M260.1 71.5L265.2 77.2M258.5 72.7L263.5 77.9M258.0 75.2L264.3 81.2M256.6 75.5L262.0 80.5M254.1 75.9L261.0 83.3M159.8 158.9L149.8 162.4M159.3 157.2L152.6 159.8M160.2 154.8L152.1 158.7M157.6 153.5L149.6 157.3M285.6 126.0L292.3 129.8M282.8 126.8L291.5 130.9M283.7 128.9L290.1 131.8M273.8 129.0L264.5 135.9M271.7 127.5L261.4 136.1M270.7 126.3L259.3 134.6M250.4 94.8L257.1 99.9M249.8 96.6L258.1 102.9M250.3 99.5L256.6 103.9M247.7 100.1L257.5 106.6M150.4 125.1L145.4 129.9M150.1 122.8L145.0 129.0M149.7 121.3L143.6 127.3M276.1 140.0L281.2 149.0M274.6 140.0L280.1 150.3M272.6 139.8L277.9 149.9M265.2 147.5L270.8 153.8M263.5 147.0L269.0 154.2M261.3 147.0L268.0 155.8M259.8 147.9L268.3 157.1M165.3 165.7L157.7 166.7M164.3 163.8L156.1 164.0M163.8 161.6L156.7 162.5M163.4 160.0L157.8 160.3M164.2 158.5L156.7 159.1M241.0 159.5L247.6 167.6M239.2 159.7L246.3 170.3M238.7 161.5L245.2 170.9M237.1 161.8L245.6 174.3M234.3 161.8L243.7 173.2M234.8 165.1L241.4 174.1M150.9 152.5L146.4 158.3M150.5 151.9L145.2 157.1M149.1 150.1L143.7 157.2M146.1 151.2L141.1 156.4M145.8 149.7L139.4 157.0M199.2 191.4L191.9 198.9M196.7 190.0L190.7 197.3M195.6 189.4L190.2 194.5M194.5 187.0L187.7 194.8M145.8 96.1L152.2 106.1M145.0 97.7L150.7 104.8M143.7 99.4L149.8 106.6M142.4 99.4L147.5 107.4M274.6 161.0L286.6 163.7M274.3 163.5L289.2 164.9M275.5 165.3L286.5 166.1M275.8 167.3L288.5 169.2M159.0 143.4L146.9 144.5M157.6 141.5L146.8 142.6M156.9 139.9L146.8 140.8M159.3 137.4L145.3 139.7M294.4 138.4L284.1 142.6M293.2 137.4L283.0 141.0M293.3 134.5L281.7 140.4M270.5 104.5L261.7 109.7M271.8 101.0L262.4 106.3M267.5 101.8L260.4 105.1M267.6 99.6L259.6 103.7M267.6 97.6L260.4 100.7M266.9 95.8L257.2 100.6M256.0 100.3L257.7 110.2M255.1 101.6L255.9 109.5M253.6 103.0L255.0 110.0M251.9 103.7L254.4 113.3M250.0 104.6L251.5 112.6M248.1 103.2L249.3 112.2M261.7 174.9L253.1 177.8M260.7 173.4L253.8 175.7M260.2 172.1L252.2 174.4M181.2 177.3L172.1 183.6M179.5 177.1L169.8 182.3M178.4 176.0L168.1 181.7M177.4 174.4L167.1 180.3M176.5 172.8L165.9 178.8M173.4 172.2L166.4 176.6M261.8 97.6L251.2 104.2M260.2 96.6L250.8 101.5M258.7 94.5L250.4 100.3M250.5 185.9L256.1 197.4M250.8 189.0L254.5 196.4M248.6 187.6L252.1 195.8M248.3 191.2L251.1 199.1M246.3 189.6L249.7 199.4M161.7 139.0L153.1 144.5M162.1 137.4L150.1 143.0M158.9 136.3L150.7 141.5M231.8 123.4L224.6 129.6M231.0 121.5L224.5 128.0M228.9 121.5L221.9 129.0M229.2 119.7L222.6 125.6M226.2 119.6L220.7 125.0M226.0 117.5L219.1 125.0M203.6 164.1L195.6 169.1M202.8 161.8L196.1 166.8M201.0 160.7L191.5 168.3M200.1 159.9L191.1 165.9M180.7 127.5L184.6 132.9M179.0 128.2L184.0 134.0M176.5 128.0L180.5 132.5M157.8 79.3L144.0 81.6M155.6 77.9L145.6 79.6M155.4 75.6L144.4 77.8M157.6 73.0L143.9 76.3M157.7 72.5L146.1 73.8M219.2 130.3L216.2 140.4M217.9 129.4L214.8 141.9M216.1 129.3L212.4 141.5M213.9 127.8L211.9 138.2M212.2 126.7L208.9 140.6M272.0 75.7L279.9 81.0M272.9 77.5L277.9 82.1M271.3 78.6L277.3 83.8M289.7 79.4L282.2 80.4M290.7 77.3L284.5 77.3M291.6 75.7L283.8 76.1M288.9 73.7L283.7 74.3M290.8 71.5L283.8 72.4M198.6 193.7L201.7 199.5M197.9 194.5L201.5 200.7M195.8 194.0L199.2 199.5M194.3 194.6L197.5 200.5M192.4 196.5L195.9 202.3M191.6 197.2L195.1 203.6M152.3 208.7L141.0 212.3M153.4 205.9L141.6 209.9M151.4 204.6L138.5 209.9M149.5 202.9L138.3 207.0M273.3 196.2L277.2 207.9M272.6 197.4L275.8 208.7M271.4 199.2L273.8 208.0M269.5 199.0L271.9 207.2M267.8 198.4L271.3 209.3M265.3 89.0L268.0 97.6M263.4 88.1L265.6 98.2M261.1 88.2L264.8 99.6M210.8 203.2L203.3 204.9M207.2 202.3L201.9 203.8M209.0 200.5L202.3 202.2M218.6 121.9L211.8 128.6M217.4 120.9L210.7 128.1M215.5 119.8L208.7 127.1M215.7 117.0L207.7 126.2M216.1 115.9L206.3 124.9M239.5 145.7L242.9 152.0M237.4 146.0L239.3 150.5M236.0 147.0L238.9 153.8M234.6 147.7L236.8 152.4M161.0 110.3L166.4 120.9M158.2 111.0L164.9 121.8M157.0 111.4L162.9 121.7M155.7 113.9L162.3 123.8M153.3 111.8L159.3 123.9M217.9 128.3L216.9 134.9M216.4 128.5L215.2 133.8M214.8 128.4L213.2 134.9M154.9 86.7L160.1 91.0M151.0 87.1L157.3 92.7M151.1 89.2L157.7 94.0M150.0 90.4L155.5 94.9M147.6 90.4L155.3 97.3M145.7 91.9L153.3 98.7M197.6 139.3L192.3 142.9M194.6 137.9L188.5 142.7M194.3 135.8L188.1 141.3M193.8 134.6L187.2 139.5M192.5 132.9L186.6 136.9M190.7 133.5L185.1 137.7M213.6 176.5L221.1 179.8M212.7 177.7L218.3 180.2M211.4 179.7L216.4 181.7M211.8 181.4L218.6 185.0M210.5 182.2L215.7 185.2M209.3 183.8L214.8 186.6M154.7 78.8L153.8 89.0M153.1 80.2L151.0 92.0M152.1 78.4L149.7 88.3M169.8 72.5L159.6 74.6M170.1 70.1L158.7 72.5M168.5 68.9L156.3 70.9M168.4 67.3L157.3 68.5M252.6 202.0L245.0 206.1M247.7 201.9L242.4 204.5M249.5 198.8L242.9 202.6M248.7 197.8L242.4 200.9M247.8 196.2L241.6 199.7M223.8 106.6L236.8 108.0M223.8 107.9L236.5 110.1M220.3 110.0L233.7 110.8M184.2 115.4L182.6 121.2M182.8 114.1L181.2 120.4M180.2 115.1L179.2 122.3M287.1 113.9L275.9 113.5M285.1 111.8L275.8 112.2M286.9 109.7L277.7 110.4M209.3 71.5L205.4 82.6M207.0 70.4L204.4 81.2M206.5 69.2L202.3 80.0M204.1 68.2L201.2 80.0M242.3 76.4L232.6 86.1M240.7 75.8L233.8 82.8M240.7 72.5L231.2 83.2M238.9 72.3L229.3 81.3M150.9 121.8L143.8 132.6M147.7 123.9L142.3 132.1M147.5 121.0L142.7 130.4M145.5 121.8L140.4 130.4M144.0 120.4L138.6 128.1M143.1 119.0L136.1 129.5M149.2 133.6L140.9 138.5M147.2 132.6L139.5 137.2M150.0 129.5L138.6 135.7M233.2 150.1L224.0 158.0M229.6 150.5L222.6 158.1M230.3 147.6L222.9 154.3M229.0 166.0L230.9 172.4M227.4 165.6L230.2 173.3M225.3 164.5L227.7 171.5M224.3 166.0L226.4 173.2M224.8 130.4L214.5 140.2M223.6 129.8L212.7 138.7M222.7 127.1L211.9 138.4M220.7 127.0L209.9 137.4M260.4 189.2L256.5 194.1M258.6 188.2L254.8 192.4M256.2 187.8L252.9 192.2M254.2 187.5L250.9 191.0M196.8 118.7L189.7 123.1M195.4 117.6L189.7 120.7M194.0 116.6L187.0 120.6M266.7 73.1L276.3 76.7M264.2 73.5L275.2 79.1M264.8 76.4L276.4 80.3M262.8 77.0L275.2 81.4M263.0 78.2L274.5 84.0M271.8 155.8L266.0 159.9M271.9 154.5L264.7 158.6M270.5 153.4L263.4 158.0M270.0 151.5L263.7 155.5M269.5 149.9L262.0 154.2M268.2 148.2L259.4 153.7M236.0 99.2L232.7 109.6M235.4 98.2L231.2 108.5M232.8 99.3L230.1 106.3M231.7 96.8L228.6 104.8M229.7 97.7L226.6 107.0M160.0 108.6L161.3 115.8M159.4 110.7L159.8 117.7M157.6 108.0L158.5 117.6M156.4 110.6L157.1 119.4M153.8 108.6L155.0 118.0M153.1 108.8L154.1 118.1M191.4 152.3L202.4 153.6M191.7 153.1L201.7 155.2M190.5 155.4L203.8 156.7M189.1 156.6L201.4 157.7M156.4 185.9L170.2 189.9M160.1 188.5L171.1 192.1M157.2 189.9L167.6 192.4M157.6 192.1L170.3 194.8M155.9 192.1L170.5 197.2M156.4 194.1L167.9 197.3M155.6 148.9L150.4 150.9M155.3 146.5L149.2 148.7M154.3 145.2L149.4 147.1M151.0 144.1L146.2 146.4M152.3 141.9L146.7 144.5M265.1 129.9L267.0 136.5M263.9 129.8L265.5 137.2M261.7 129.6L263.7 136.8M260.4 129.4L262.5 137.2M242.0 76.8L229.6 80.5M241.0 75.7L229.7 77.7M243.1 73.0L230.3 76.6M240.8 72.0L229.9 74.0M239.9 71.1L227.8 73.4M162.0 96.7L164.9 106.8M160.7 99.3L162.0 107.8M158.4 97.1L160.6 107.3M156.7 98.4L159.3 107.1M155.4 101.8L157.3 109.1M228.5 190.7L231.9 200.8M227.3 192.8L230.4 200.4M224.9 191.2L228.4 202.2" stroke="#5d92c6" stroke-width="0.65" fill="none" stroke-linecap="round"/>
<path d="M185.1 140.0L189.9 142.3M186.2 142.0L190.1 144.0M184.9 143.6L189.2 145.4M185.5 145.9L190.2 148.3M158.8 132.7L151.6 133.7M158.3 130.7L151.5 131.6M158.2 128.4L153.0 129.5M256.2 71.7L254.0 76.1M254.9 70.5L252.0 76.0M252.9 69.7L250.7 74.8M280.5 118.5L285.4 122.6M280.4 120.0L284.2 123.5M278.1 120.5L282.1 123.9M277.4 121.9L283.0 126.2M275.0 81.2L274.6 84.9M273.5 79.1L273.2 82.8M271.9 79.1L271.7 82.5M198.5 173.7L207.4 176.8M197.4 175.4L205.6 178.2M197.6 177.5L204.8 180.1M197.7 178.3L203.7 181.5M269.2 125.9L276.2 130.5M267.9 127.8L275.5 132.0M266.8 129.4L273.6 132.9M280.5 68.2L288.6 73.9M278.5 69.0L284.7 73.8M279.3 72.0L286.0 76.6M197.7 127.1L193.3 133.0M195.7 127.2L192.5 131.1M193.9 126.7L190.9 130.7M271.5 76.9L268.1 78.5M269.8 76.0L266.2 77.6M270.0 74.4L266.4 75.8M242.2 131.3L245.6 137.7M241.4 133.1L244.8 139.1M240.0 132.7L242.8 139.0M241.9 113.9L238.9 115.8M240.2 112.8L237.9 114.6M158.9 166.9L155.3 167.9M159.4 164.7L155.2 166.3M158.8 163.1L154.9 164.8M156.5 161.6L152.6 162.8M237.8 72.5L241.6 73.7M237.5 74.4L241.7 75.9M236.6 76.0L240.4 77.6M236.2 77.4L240.4 79.1M217.5 95.5L214.5 97.7M218.9 92.5L215.3 94.8M219.2 162.4L224.3 163.0M218.5 164.1L223.5 164.6M163.8 90.6L167.0 93.2M164.9 92.8L169.1 96.3M163.4 94.3L166.9 96.9M162.5 95.3L166.4 97.9M220.4 122.2L228.9 122.5M222.2 124.2L231.8 124.8M221.9 125.9L231.0 126.1M221.8 128.0L229.5 128.4M170.5 179.7L170.3 185.1M168.7 181.7L168.9 186.5M246.0 136.2L249.4 140.7M243.9 136.4L246.7 140.0M243.4 137.9L245.7 141.6M223.2 104.8L227.2 109.7M220.9 105.6L225.1 110.2M221.7 108.3L225.1 112.8M185.4 139.0L178.2 143.2M185.5 137.2L178.6 140.9M197.5 76.9L192.9 79.6M196.8 74.8L191.2 78.8M193.6 75.0L189.0 77.5M194.6 71.7L189.6 75.4M171.6 167.1L172.7 170.7M169.4 165.4L170.7 169.2M242.6 81.1L244.7 86.8M240.9 82.2L242.4 86.3M190.7 112.2L185.3 116.7M189.3 111.2L184.6 115.5M189.2 108.9L183.0 114.9M234.0 152.5L235.1 156.1M232.2 154.0L233.2 157.9M230.6 155.3L232.3 160.4M229.1 154.2L230.4 159.2M280.0 194.3L283.7 201.7M278.9 194.8L282.1 204.0M277.0 196.2L279.6 202.7M274.8 78.8L275.4 83.5M272.5 77.2L273.0 83.8M270.5 78.3L271.4 83.6M269.2 78.4L269.3 84.8M221.1 160.0L217.0 168.4M219.4 160.0L215.5 166.1M217.6 158.9L214.2 165.5M208.3 75.7L202.6 79.5M205.3 74.9L201.3 78.1M204.7 73.4L198.9 77.2M202.7 72.4L197.6 76.0M166.7 183.2L161.3 184.6M168.0 181.4L163.3 182.3M240.6 76.6L235.9 83.9M240.0 74.4L235.9 81.5M238.7 73.7L234.2 79.5M207.3 117.2L203.9 126.5M204.9 116.5L202.2 126.1M204.3 114.4L200.8 122.3M192.8 207.5L201.2 212.1M192.1 209.6L199.5 212.9M191.7 211.1L198.4 214.2M150.8 152.4L146.7 156.0M149.8 151.0L146.1 153.9M148.0 150.2L143.7 154.4M212.2 186.9L210.1 190.1M211.2 185.7L209.2 188.0M195.8 98.7L187.5 103.3M193.8 97.3L186.7 102.1M276.3 181.0L271.3 182.7M276.5 179.4L272.6 180.7M275.6 177.5L271.1 179.4M275.0 176.3L271.6 177.4M214.3 128.9L211.3 132.7M214.2 125.6L211.4 130.3M212.1 125.5L209.6 129.4M210.8 124.3L207.2 129.3M178.6 89.6L173.9 94.5M175.6 89.6L171.7 94.1M173.8 89.4L170.1 92.9M173.1 86.3L169.5 90.4M165.1 194.2L166.5 197.2M163.4 194.2L164.5 197.4M270.3 182.0L265.3 186.0M270.0 180.1L265.2 183.1M267.7 179.3L263.8 182.2M267.5 177.2L264.2 180.1M174.8 191.7L179.6 196.1M173.5 192.6L176.9 196.0M276.6 82.9L271.3 84.8M276.7 81.3L272.5 82.5M276.5 79.4L270.7 81.2M281.4 131.8L275.9 133.4M279.2 130.5L274.7 132.1M167.8 134.5L173.2 137.1M167.5 135.8L171.6 138.1M167.5 137.7L172.3 141.1M247.0 172.7L252.7 176.5M246.6 174.2L251.7 178.2M244.3 174.9L248.5 177.8M153.4 86.3L156.3 92.9M152.0 86.5L154.2 91.8M150.1 87.0L152.4 93.3M173.0 79.7L175.3 86.4M171.8 82.0L174.0 87.7M170.2 82.5L172.2 89.4M220.5 179.6L222.0 184.3M218.4 180.3L220.1 185.1M217.0 182.3L218.3 185.8M267.5 206.8L260.7 209.3M268.5 203.8L260.0 207.9M268.6 202.7L259.6 206.2M252.3 188.6L256.4 191.0M249.8 189.0L253.7 191.5M283.6 192.6L281.2 196.3M281.5 192.5L279.0 195.9M266.7 99.4L261.4 104.4M263.8 99.1L259.6 103.0M264.4 96.4L258.7 101.3M262.1 95.7L256.9 101.2M215.7 77.4L219.5 79.8M215.6 79.4L219.5 81.4M214.7 80.7L219.3 83.0M282.0 101.2L279.2 103.1M282.2 99.1L278.5 101.4M279.8 98.3L276.9 100.6M169.7 185.7L171.6 190.1M167.9 186.3L169.5 190.4M245.3 69.4L248.0 72.9M245.2 72.5L247.5 75.3M243.3 72.2L245.3 75.2M177.4 204.7L184.0 208.4M177.5 206.8L185.9 211.1M174.3 207.3L182.9 211.2M202.8 207.5L197.8 211.4M201.5 206.1L195.8 211.1M148.1 177.7L149.5 186.1M146.4 177.3L147.9 185.6M234.1 175.4L228.4 175.5M233.8 173.2L228.1 173.7M233.5 171.7L229.0 172.3M221.0 113.9L222.1 120.5M219.6 115.5L220.7 122.9M218.0 115.8L219.2 123.8M215.2 114.4L216.6 122.1M257.7 145.2L257.0 151.3M256.0 144.5L255.4 148.7M254.3 144.1L253.3 149.3M271.2 70.5L276.0 77.4M270.7 72.1L275.2 79.0M218.5 201.0L214.6 203.4M219.2 198.8L214.5 201.1M217.6 197.3L213.2 200.0M277.1 154.0L279.5 157.3M275.0 153.7L278.2 158.0M274.0 155.1L277.3 159.2M288.0 191.2L290.1 195.3M286.6 192.6L288.3 197.0M172.8 120.9L169.8 125.5M170.3 121.0L167.9 124.8M169.0 119.2L165.6 124.4M272.6 99.5L267.3 103.9M271.1 98.3L266.5 101.7M201.4 97.6L204.4 104.4M200.7 100.2L203.0 106.1M198.8 100.8L202.5 107.5M202.5 131.3L211.4 135.8M205.2 134.5L211.9 137.9M203.7 135.6L212.3 139.6M201.7 136.9L208.0 139.8M166.4 84.0L166.6 88.9M165.0 83.4L165.5 87.2M163.2 83.3L163.5 87.7M161.7 82.9L162.0 87.2M211.2 172.4L216.5 177.3M210.6 174.0L215.9 180.0M233.4 171.3L227.1 174.8M233.8 169.1L228.3 172.3M233.4 167.9L228.0 170.3M191.3 125.6L186.6 128.2M191.9 123.6L186.4 126.1M187.2 181.4L183.3 183.5M188.6 178.5L184.4 180.9M187.3 177.4L183.3 179.4M184.7 176.5L181.1 178.5M218.1 141.8L216.2 146.5M216.2 142.0L213.9 146.6M214.9 139.5L212.9 144.3M231.3 117.2L234.2 119.4M229.9 117.8L233.6 121.2M257.1 114.0L264.7 116.1M256.1 115.3L262.1 116.6M256.1 117.2L263.2 118.4M257.6 119.1L263.4 120.1M209.4 157.3L212.8 160.9M207.1 157.9L210.1 161.0M206.6 160.0L210.8 164.0M206.9 112.4L208.8 118.5M205.0 112.8L207.1 119.8M203.1 113.1L205.3 119.5M202.0 114.3L203.6 119.0M167.5 199.7L160.7 203.8M167.2 198.5L159.7 202.4M166.9 196.7L159.4 200.5M166.2 195.4L159.0 199.1M207.8 159.3L216.3 164.4M206.3 161.2L213.7 165.1M206.5 163.6L216.1 167.6M156.0 147.6L149.3 150.3M156.9 145.9L150.0 147.8M256.3 112.1L252.1 118.4M254.6 111.9L251.5 117.3M254.2 109.6L250.9 114.6M252.5 107.6L249.4 113.0M173.4 138.4L175.8 146.7M172.5 141.7L175.0 148.2M170.6 193.2L172.8 199.0M169.9 195.8L172.0 200.0M168.0 196.4L170.3 200.8M166.5 196.7L168.4 201.5M199.4 85.8L192.6 89.0M195.8 85.2L191.0 87.9M289.7 81.9L283.4 85.0M288.0 80.8L281.4 84.0M249.9 105.5L252.4 111.5M248.5 105.4L250.5 112.4M229.8 158.2L233.0 165.4M227.9 157.0L231.8 166.5M225.9 157.5L229.7 166.1M233.9 133.3L228.4 140.3M233.1 132.3L227.4 138.8M231.5 130.9L225.9 139.6M273.1 118.5L268.8 119.3M273.3 116.4L268.7 117.2M272.0 115.1L267.1 116.1M274.4 113.1L269.8 114.3M240.8 98.1L246.2 99.4M241.0 100.1L245.7 101.1M242.1 102.0L246.0 102.4M275.3 109.5L280.5 114.9M274.4 110.6L278.9 115.9M272.2 110.4L277.0 116.0M165.8 129.7L173.5 132.2M166.6 131.9L174.2 134.9M166.8 134.0L173.1 136.5M164.7 135.1L172.8 137.6M228.4 104.4L232.3 107.5M228.8 107.3L231.8 109.7M227.7 108.3L230.8 110.9M226.6 110.6L230.0 113.6M148.9 189.3L149.4 194.7M146.8 188.1L147.6 194.1M145.1 187.2L145.2 194.4M143.8 188.8L144.7 196.3M143.8 133.3L138.0 134.7M144.9 130.0L139.2 132.2M144.6 128.9L138.1 130.6M144.3 127.1L138.6 129.1M148.5 70.0L147.5 74.5M146.6 70.6L146.1 74.3M145.0 69.0L144.0 74.1M161.0 123.7L162.1 127.7M159.1 123.0L160.9 128.1M157.5 124.2L158.5 127.9M183.4 72.8L177.2 78.4M181.0 72.2L175.5 77.6M182.4 69.1L175.4 75.9M171.0 147.6L170.1 157.4M169.7 146.4L168.5 157.1M223.4 172.5L218.7 175.3M219.7 172.1L216.4 174.4M220.8 169.6L215.9 172.5M218.7 168.3L214.7 170.8M239.6 105.8L236.9 114.4M237.9 105.8L236.1 112.6M235.8 106.9L232.9 114.6M235.0 105.1L232.9 111.6M221.1 130.8L226.2 137.4M219.8 131.1L223.7 136.9M219.7 134.4L223.5 139.8M217.8 133.5L222.0 140.4M211.1 146.5L206.5 149.2M208.5 145.4L204.8 148.3M163.8 140.1L162.3 144.2M162.2 139.6L161.2 142.5M162.4 144.7L166.0 144.9M163.7 146.3L167.9 147.0M163.8 148.5L168.0 148.6M163.0 150.0L166.3 150.5M155.4 175.4L153.8 178.9M154.1 174.2L152.5 178.9M152.5 173.1L151.3 177.2M151.8 171.1L150.0 175.3M163.9 140.5L157.1 141.2M160.7 139.1L154.0 140.2M161.5 137.2L155.7 137.9M162.5 135.3L155.8 136.9M229.8 77.6L221.9 80.2M227.4 77.3L219.2 79.3M226.2 75.5L219.7 78.1M225.3 73.5L218.9 75.8M226.7 135.9L221.6 136.1M225.9 134.4L220.8 134.9M224.6 132.5L221.0 133.0M225.8 130.7L220.3 130.8M172.4 108.3L167.0 108.4M173.7 106.0L166.8 106.7M173.0 104.1L167.7 104.4M287.0 81.6L288.7 85.7M286.1 83.5L287.2 87.1M285.0 84.9L286.1 88.8M282.7 84.3L283.7 87.1M195.2 187.4L192.0 190.6M194.7 185.0L191.2 189.5M199.5 190.7L194.6 193.6M199.5 188.6L196.1 190.7M209.3 128.3L203.3 134.2M207.9 127.3L201.1 135.0M205.3 128.1L200.3 132.8M205.4 124.5L199.8 129.8M193.5 68.3L194.8 74.2M192.6 71.5L193.5 76.6M228.9 115.9L234.4 121.5M227.0 117.4L233.3 122.9M225.6 118.7L231.6 124.3M251.0 100.1L245.1 105.6M250.7 96.8L244.6 104.0M248.9 96.5L244.8 101.0M268.8 116.9L271.9 118.6M267.0 117.8L271.6 120.0M267.5 119.7L272.0 122.1M266.2 120.9L269.4 122.5M191.1 209.3L183.6 214.2M189.1 208.3L182.5 212.4M188.3 207.0L183.1 210.3M175.7 87.5L178.2 91.2M174.9 89.2L177.3 92.6M173.1 89.8L175.2 93.0M154.4 182.6L156.9 186.8M153.0 183.3L155.7 187.3M152.0 184.5L154.6 188.3M255.3 150.7L260.7 155.6M254.6 151.9L259.9 156.5M253.5 152.8L258.3 158.2M251.6 154.2L255.8 158.7M252.0 84.1L259.0 88.7M250.6 85.4L259.9 89.9M251.2 87.8L259.5 91.9M250.5 88.8L259.3 94.2M156.4 166.7L157.2 174.0M154.6 165.5L155.1 172.8M152.8 166.1L153.1 172.3M273.1 94.1L268.3 99.2M271.1 93.0L267.5 96.3M270.1 91.2L265.8 95.7M270.0 89.9L264.4 94.5M167.1 201.8L170.3 205.0M166.6 204.6L169.8 207.2M165.0 205.5L168.8 208.5M164.8 208.2L168.5 211.9M165.6 190.0L169.7 199.2M164.3 191.4L166.7 197.9M162.7 191.5L164.9 199.3M161.2 193.8L164.0 200.5M170.2 128.6L175.2 131.7M169.4 130.1L173.9 132.9M169.2 131.6L175.6 135.5M251.5 154.2L249.8 157.4M250.0 153.5L248.3 157.4M248.2 107.2L254.3 108.0M245.2 108.1L252.9 109.3M141.3 202.8L143.2 208.3M139.2 201.8L142.1 209.8M138.2 204.3L140.8 211.1M258.0 80.2L262.8 83.9M256.9 81.1L261.2 85.3M287.7 166.1L280.3 171.3M284.4 166.4L278.5 170.4M285.5 163.5L277.8 168.7M284.1 161.5L277.4 166.5M176.4 142.9L181.2 145.9M175.3 144.4L180.9 147.9M259.0 202.2L263.5 204.3M258.9 203.8L264.9 206.6M258.5 205.3L262.6 207.0M255.5 168.8L248.0 171.5M253.0 167.8L246.7 170.9M154.5 128.8L149.7 131.4M153.2 127.5L149.4 129.8M166.9 106.1L162.7 108.8M167.7 103.4L164.0 105.7M165.8 103.0L160.4 106.3M165.5 100.9L161.7 103.5M285.1 145.6L289.7 149.7M282.7 145.7L287.2 150.3M281.6 146.9L287.4 153.6M281.1 149.9L286.1 154.5M181.3 167.4L177.4 169.5M182.1 165.4L177.3 167.6M201.4 77.8L197.6 82.6M201.0 76.0L197.9 79.3M199.2 75.1L195.2 79.6M162.9 132.7L168.4 141.2M162.6 134.6L165.8 140.9M161.4 135.9L165.3 143.2M159.2 136.3L162.4 142.9M255.5 196.9L250.6 199.6M255.1 195.5L249.5 198.4M256.1 192.8L250.0 196.9M149.9 208.1L147.3 215.7M147.3 207.8L145.2 214.8M145.6 207.8L143.6 214.2M144.5 207.2L141.0 216.4M261.9 99.7L247.3 109.6M260.8 97.0L244.3 109.4M211.1 154.5L220.0 172.2M258.6 195.1L246.1 197.8M258.0 192.8L246.2 195.8M178.2 141.2L166.0 154.0M155.8 180.7L169.2 185.8M155.2 68.4L167.4 70.6M151.3 70.4L169.3 72.9M166.7 111.1L181.9 122.7M231.0 99.7L226.2 110.8M229.5 98.5L223.6 110.4M226.6 206.9L210.0 213.3M226.7 204.1L209.5 211.6M193.7 155.8L193.6 174.5M187.5 162.0L198.0 168.5M186.1 163.2L195.5 170.6M271.0 189.1L278.2 205.8M268.5 190.6L276.0 205.6M188.6 175.8L202.7 178.7M208.7 107.6L200.0 129.7M220.7 98.6L231.2 112.7M236.6 135.4L225.4 138.7M280.6 88.4L266.0 100.3M191.5 154.0L174.7 158.4M249.1 170.9L233.6 173.8M251.3 168.3L235.3 171.2M275.6 132.4L260.4 146.8M223.7 65.7L230.2 82.0M220.1 66.4L229.3 81.9M147.9 84.6L162.3 99.9M146.8 87.6L162.7 102.3M260.5 101.0L267.0 119.9M162.2 107.5L153.5 119.1M162.1 103.0L150.1 120.5M157.6 186.3L164.6 194.9M204.5 115.6L213.1 125.6M203.1 117.3L210.7 126.0M280.0 94.4L260.1 96.7M279.2 91.5L261.0 95.7M284.3 84.4L293.3 90.4M282.9 86.2L293.0 92.7M196.4 177.6L189.1 187.3M194.9 175.6L187.8 185.2M287.6 149.7L271.1 150.7M211.4 166.4L222.3 171.4M210.4 169.0L220.7 173.0M215.9 88.0L207.2 108.7M213.3 86.1L205.8 106.2M239.0 195.3L232.5 211.4M243.6 109.5L238.4 123.5M271.5 177.7L260.9 184.7M268.9 176.7L260.2 182.6M266.3 178.4L251.4 198.7M262.9 180.8L251.1 193.6M188.1 94.4L201.9 112.9M197.7 168.7L189.1 192.4M194.4 169.3L187.9 190.0M226.4 95.4L207.6 112.3M225.2 95.5L208.7 107.3M151.2 100.3L140.7 110.1M148.0 100.2L140.2 108.3M203.0 117.4L213.7 124.4M249.5 182.3L240.0 190.7M189.1 146.5L204.3 163.6M186.7 145.7L200.7 164.1M211.6 194.0L217.4 216.3M210.1 194.2L214.8 217.2M236.5 90.7L225.5 95.9M236.2 89.1L227.1 92.2M263.0 132.0L254.2 138.9M262.4 130.9L251.0 138.0M208.2 167.1L187.9 171.3M161.5 115.8L142.0 122.0M163.7 112.4L138.7 120.7M145.6 88.6L150.5 107.4M143.5 88.1L147.9 105.7M275.9 148.5L286.7 160.4M273.6 148.9L286.7 163.4M183.5 138.1L184.1 151.1M188.5 173.9L207.9 177.9M211.4 134.4L231.5 137.1M204.6 201.0L205.8 219.8M201.3 199.8L204.3 224.9M270.8 167.3L258.1 177.9M189.6 125.5L180.2 140.1M276.5 100.0L271.2 115.3M274.6 99.2L268.4 114.1M249.8 83.0L271.4 91.3M250.9 84.5L270.4 94.1M281.9 196.4L257.8 199.4M239.2 75.8L251.4 87.0M168.9 111.1L174.9 128.5M166.2 112.4L172.2 127.3M262.1 147.5L270.2 168.5M232.1 114.1L215.0 121.0M235.0 111.5L210.7 119.0M265.1 200.9L263.6 214.2M259.7 184.7L277.4 203.1M257.7 186.8L277.2 205.2M193.0 174.5L182.3 179.9M200.2 203.9L204.8 213.6M196.5 201.5L202.2 214.9M216.0 191.3L220.4 201.8M152.0 171.6L133.2 175.9M150.7 169.4L132.1 174.2M287.9 67.3L278.5 81.0M286.3 64.8L276.6 79.7M196.9 205.5L181.0 205.6M198.5 101.6L210.6 112.6M255.2 120.3L245.1 129.8M253.2 118.4L244.0 128.1M164.6 122.3L160.4 133.1M280.8 140.4L268.3 146.7M279.6 138.1L264.6 146.8M187.0 153.3L194.5 167.5M266.7 71.6L252.3 83.9M265.4 69.9L253.2 80.0M284.1 188.1L291.3 200.4M282.2 189.5L289.8 201.6M183.3 201.3L164.3 214.0M204.0 79.4L215.6 99.1M270.2 93.5L259.3 98.6M268.6 91.7L259.3 96.5M228.2 181.2L214.8 186.7M142.2 124.3L144.3 135.9M172.9 173.5L161.1 187.9M169.6 174.0L158.9 187.2M191.4 65.7L201.2 76.2M239.3 183.3L250.2 187.4M239.5 186.2L249.1 189.0M285.8 200.1L277.1 215.7M285.4 196.1L273.9 216.4M292.4 114.4L282.3 127.4M290.4 113.4L280.1 126.0M253.6 168.8L261.5 179.7M252.2 171.2L261.7 184.2M200.5 139.1L186.5 144.6M186.6 98.3L180.2 106.6M185.1 96.5L177.4 107.9M140.7 195.6L147.5 217.7M138.6 196.5L144.6 217.5M255.0 119.4L262.6 132.8M251.9 120.8L261.0 133.3M212.5 206.4L196.1 208.4M213.5 204.5L194.5 206.5M175.9 197.2L162.0 201.6M212.1 203.8L218.0 216.2M196.8 192.9L174.6 197.7M193.8 191.1L177.1 195.7M183.3 141.0L207.5 150.0M164.5 183.9L171.5 201.3M240.8 119.6L229.3 137.7M271.7 115.6L258.2 127.4M272.6 111.9L255.8 126.7M219.3 117.7L206.1 123.9M200.9 100.5L205.0 116.9M198.6 101.3L202.7 117.8M251.4 104.5L239.7 107.3M234.2 161.9L215.3 169.6M277.9 91.3L254.7 102.8M290.1 120.4L270.8 136.6M287.5 119.2L270.2 134.9M178.8 73.6L188.8 89.2M177.1 75.4L185.3 87.4M207.7 154.2L224.4 159.4M208.1 156.2L223.1 161.4M245.8 167.7L257.0 176.9M150.5 198.3L133.6 205.0M150.0 196.4L133.8 202.7M204.1 115.4L190.7 125.5M264.4 206.5L276.3 206.9M261.6 209.2L276.7 208.6M174.1 140.0L189.5 146.0M255.0 201.0L260.6 213.7M254.1 203.8L258.9 216.1M269.9 127.3L259.4 142.0M268.7 123.8L255.9 143.5M250.8 121.6L254.2 131.7M270.9 177.2L259.8 184.4M154.4 126.2L171.1 131.6M156.2 130.2L171.8 132.9M207.9 153.3L201.8 164.8M205.4 154.3L199.1 164.1M157.1 71.9L172.4 90.4M271.9 149.2L269.4 165.7M269.9 149.5L266.5 167.0M151.6 203.0L140.2 210.6M149.1 201.5L140.2 208.0M231.2 128.0L241.8 139.5M227.7 128.4L240.4 141.0M253.8 189.3L241.3 203.1M244.0 178.4L234.8 190.1M242.1 177.7L233.6 187.9M215.1 154.6L199.6 168.5M172.1 84.2L189.6 92.6M174.6 87.7L188.9 94.2M163.9 78.7L173.9 95.2M164.0 81.5L171.7 97.0M290.5 172.2L279.2 181.2M289.5 169.5L277.2 181.3M173.4 150.9L175.9 164.8M170.8 153.0L175.0 166.7M243.9 165.0L233.9 167.7M254.9 105.5L244.1 111.2M189.8 144.9L190.7 161.1M177.2 93.0L165.5 102.9M174.8 91.7L163.2 101.9M211.7 110.5L226.7 117.5M211.4 113.1L226.2 120.0M193.8 96.9L176.1 98.4M194.3 94.2L174.4 96.1M261.1 136.8L250.6 142.1M166.6 101.5L145.8 109.0M163.2 100.1L149.5 106.1M185.0 191.2L203.4 202.6M195.8 80.6L175.6 83.9M193.9 78.7L178.3 81.0M219.9 198.7L206.3 204.4M290.1 184.4L284.3 194.2M289.3 179.8L283.4 192.8M285.3 157.3L271.6 158.5M147.8 148.3L153.4 157.2M145.1 149.3L151.9 159.3M158.4 164.1L173.9 184.8M218.2 97.9L224.7 109.2M223.6 133.9L227.1 153.3M221.8 136.2L224.2 149.8M278.0 181.8L256.1 184.4M162.0 93.3L168.8 114.8M161.1 95.8L166.3 114.7" stroke="#3571b2" stroke-width="0.55" fill="none" stroke-linecap="round"/>
<path d="M159.2 206.8L162.2 210.4M156.5 206.4L160.2 210.8M155.7 208.2L159.6 212.7M163.0 115.7L164.8 121.1M162.3 118.4L164.4 123.3M160.3 116.8L162.5 122.3M199.2 88.0L192.7 91.9M198.2 87.0L192.1 90.6M197.3 85.4L190.6 90.3M194.5 85.3L188.5 88.9M161.9 105.3L167.6 105.7M162.8 107.2L166.7 107.2M194.9 167.0L199.9 170.8M194.5 167.8L198.6 171.9M193.6 169.4L198.0 172.9M192.4 170.2L197.4 174.9M243.4 166.7L245.9 172.2M241.6 166.8L245.3 173.8M269.1 200.2L264.3 203.1M268.0 199.0L264.4 201.5M267.1 197.8L263.5 200.2M266.5 196.2L263.0 198.2M276.5 126.2L273.1 128.4M274.4 125.9L271.1 128.0M206.1 71.2L209.3 75.1M205.7 72.8L208.7 76.0M203.3 72.0L206.2 75.2M178.2 94.4L186.1 97.9M179.2 97.1L186.6 99.5M179.7 99.2L185.6 101.0M254.1 150.7L257.4 151.9M253.1 152.1L256.0 153.0M240.8 97.7L244.7 102.4M240.4 99.9L243.5 103.6M237.8 99.8L242.6 104.9M273.5 161.7L277.0 164.3M271.8 162.2L274.8 165.1M272.4 165.2L276.4 168.3M271.6 166.9L274.2 168.9M281.8 123.6L284.8 126.6M281.9 124.8L285.1 128.7M280.1 125.5L283.0 128.9M279.1 126.7L282.0 130.3M195.0 206.1L197.1 207.7M193.7 207.5L196.4 209.7M193.3 209.4L196.1 211.5M191.0 209.8L193.3 211.7M187.7 89.5L183.3 91.3M187.5 88.0L183.9 89.6M186.1 87.4L182.5 88.8M262.9 159.9L261.4 163.0M261.4 159.1L260.5 161.2M192.7 112.4L193.4 117.6M191.5 111.5L192.4 118.3M189.9 112.6L190.9 118.8M188.6 111.6L189.6 118.1M200.3 79.2L199.0 81.5M199.9 77.5L198.3 80.7M199.1 75.5L197.5 78.6M197.7 74.8L196.4 77.7M273.2 110.5L274.7 113.6M272.8 113.6L274.2 116.3M270.7 112.3L272.4 116.0M269.6 112.6L270.8 115.4M193.8 153.8L195.4 159.0M192.5 152.7L193.8 157.9M191.3 153.1L192.2 158.5M189.4 154.8L190.4 158.3M242.8 81.7L237.3 85.5M241.3 80.2L236.5 84.6M194.7 151.8L192.1 153.2M194.2 150.4L191.1 151.7M192.3 149.2L189.4 150.7M191.1 147.8L187.9 149.3M193.1 186.8L199.9 187.8M190.7 188.4L197.9 188.6M190.8 189.5L197.1 190.0M233.7 123.9L228.2 127.9M233.6 121.5L227.5 126.9M284.7 195.2L279.2 197.9M282.7 194.4L277.5 196.5M281.7 192.9L276.8 194.8M236.7 106.8L232.0 109.2M237.7 104.4L231.2 107.3M236.7 102.4L232.0 105.3M234.1 181.0L237.0 182.3M232.9 182.1L235.7 183.3M202.1 133.9L208.0 136.2M202.3 135.4L208.1 138.4M201.3 136.6L207.4 139.4M198.8 136.6L205.3 140.0M282.3 167.8L288.7 170.2M283.2 169.4L289.3 172.6M150.0 193.8L157.0 199.0M149.5 194.8L155.1 199.5M149.4 197.0L154.8 200.8M242.9 133.6L236.5 135.0M242.0 132.1L235.7 133.2M211.3 87.1L207.0 89.4M211.3 85.5L207.4 87.6M212.0 83.2L207.4 85.8M211.0 81.4L206.9 83.9M282.5 105.2L277.9 107.6M281.7 103.8L277.6 106.3M282.2 102.1L277.7 104.5M206.1 72.3L211.1 78.9M205.8 74.1L210.3 79.4M203.9 74.4L207.9 79.1M203.9 75.9L207.2 80.8M212.5 120.1L219.2 122.9M210.5 121.1L218.7 123.9M271.9 110.9L276.3 116.9M271.7 113.3L275.3 118.4M236.2 101.7L237.7 104.3M234.3 102.4L236.1 104.9M233.8 103.9L235.7 106.8M273.0 133.5L274.5 138.0M271.7 133.6L273.0 140.2M258.6 97.3L261.8 99.5M258.0 98.8L261.1 101.0M150.4 114.1L155.2 118.0M150.6 116.1L155.3 120.4M227.0 148.2L222.5 152.4M227.3 145.2L221.0 151.5M220.3 156.3L217.9 158.0M218.8 155.6L215.9 157.4M219.1 153.7L216.1 155.4M282.9 107.3L284.7 113.6M281.7 108.2L284.2 115.7M279.5 107.1L282.2 114.8M288.4 103.3L291.0 104.6M286.6 104.7L289.0 105.6M286.2 106.2L288.7 107.2M286.3 108.1L288.9 109.3M254.2 177.1L248.2 181.7M254.5 174.5L248.7 179.5M250.6 175.5L246.8 179.0M293.4 115.2L289.4 117.1M292.7 114.0L286.8 116.8M292.0 112.5L287.8 114.9M289.1 112.1L285.2 114.4M248.9 134.1L243.9 137.0M249.3 132.2L244.6 134.4M249.0 130.7L242.6 134.0M192.7 154.3L191.5 157.9M191.0 154.6L190.2 157.7M190.1 152.6L189.1 157.0M265.9 76.1L268.9 81.0M263.6 76.4L267.6 81.2M262.0 76.0L264.9 80.4M145.9 137.0L149.0 140.5M145.6 140.0L148.7 143.2M145.1 141.2L147.7 144.4M141.5 140.6L145.0 144.2M248.5 161.3L247.1 167.9M247.0 159.4L245.8 166.9M210.5 214.0L203.6 215.6M211.9 211.5L205.7 213.0M210.0 210.5L203.9 211.9M211.3 207.7L204.4 210.1M252.4 162.8L250.4 164.8M251.7 161.4L249.1 163.7M250.5 160.5L248.4 162.3M249.2 160.2L247.0 162.2M242.2 133.5L239.0 135.9M240.1 133.2L236.8 135.6M239.7 131.2L235.8 134.6M238.4 130.2L235.5 132.3M148.2 84.7L144.9 87.2M148.9 82.8L145.0 85.1M148.3 81.3L144.0 84.0M147.1 79.8L143.7 82.5M180.4 166.7L183.1 169.8M178.7 166.5L180.6 168.7M177.4 166.7L179.8 170.1M279.5 207.6L281.1 212.5M278.4 208.7L279.1 212.8M276.9 209.6L278.1 214.6M275.8 209.0L276.8 214.3M170.6 121.4L175.1 123.7M170.4 122.8L173.7 124.6M169.7 123.9L173.2 126.1M170.2 126.0L175.2 128.5M277.0 155.5L279.4 157.4M276.3 157.1L278.9 158.7M225.4 71.4L227.8 77.3M223.8 70.7L225.9 76.5M166.4 160.5L163.8 161.6M165.5 159.1L162.3 160.4M165.2 157.1L162.0 158.7M162.6 156.5L159.2 158.2M169.7 131.8L165.5 137.0M169.4 129.4L165.3 135.6M167.6 130.0L163.7 135.1M258.3 114.3L265.8 115.8M258.1 116.0L264.7 117.4M259.0 117.8L265.8 118.9M258.9 118.8L265.3 120.1M196.8 141.2L189.4 142.9M196.4 139.9L190.2 141.0M197.0 137.9L189.3 139.9M241.9 118.6L246.8 121.5M242.8 120.9L247.0 123.6M268.2 126.8L263.8 129.1M265.7 126.0L262.0 128.1M167.7 151.3L163.1 154.6M165.8 151.0L162.0 153.3M165.9 149.2L161.8 151.9M164.1 148.7L160.3 151.5M182.7 144.1L185.1 145.6M180.4 144.5L182.6 145.8M221.0 135.9L217.8 135.9M219.8 134.6L216.3 134.8M220.3 132.5L216.5 133.0M248.7 72.9L252.7 77.8M246.6 72.3L250.4 77.8M245.3 73.3L250.0 78.7M277.9 141.6L276.0 143.8M275.7 142.3L273.6 144.7M274.4 141.9L272.4 144.3M188.9 114.4L181.5 116.0M190.7 112.4L183.0 114.5M228.2 130.5L230.1 133.8M226.6 131.7L228.5 134.7M225.1 132.1L227.8 136.4M223.4 131.9L225.7 135.4M191.3 71.0L187.7 75.3M189.4 71.1L185.2 76.0M188.4 69.8L184.7 74.9M186.9 69.7L183.6 73.6M190.8 129.9L198.7 134.4M189.4 131.2L196.3 134.7M215.1 90.2L210.4 93.0M216.1 87.9L211.0 90.7M215.3 86.9L208.7 90.3M237.2 117.9L234.3 123.3M234.7 118.3L232.6 123.8M234.1 115.9L232.0 121.3M232.8 115.6L230.5 120.4M286.7 143.7L284.3 145.3M284.1 143.5L281.1 145.6M283.8 141.6L280.9 143.5M178.0 170.8L175.4 173.5M177.5 168.9L174.8 171.9M279.3 115.6L271.4 120.5M278.4 114.7L270.5 118.9M275.7 114.8L268.9 118.2M184.7 149.5L181.4 151.6M183.1 148.3L180.3 150.5M181.5 147.5L178.5 149.7M179.9 146.7L176.4 149.0M183.1 133.0L176.8 135.8M182.4 132.3L175.1 134.7M182.8 130.7L174.0 133.2M179.9 129.6L173.2 132.7M195.9 175.6L196.7 178.1M193.8 175.2L194.9 177.6M192.9 177.2L194.1 179.8M191.5 175.9L192.3 178.2M252.0 199.1L253.1 203.4M250.9 201.2L252.0 205.0M282.5 183.5L277.7 186.4M282.8 181.5L276.6 185.3M280.1 181.4L274.1 184.9M279.7 180.1L273.2 183.7M231.4 168.2L224.5 171.8M230.8 166.4L224.5 170.2M230.6 165.0L224.9 168.4M260.5 148.7L263.4 152.2M258.7 148.3L262.3 152.7M256.1 147.5L260.4 152.4M255.7 149.2L259.7 154.1M184.0 160.5L183.8 165.7M182.3 162.2L182.6 167.1M211.4 158.7L210.5 163.8M210.0 158.0L209.0 162.6M215.7 185.0L213.1 188.1M216.3 182.4L213.7 185.3M213.1 183.3L210.7 186.2M164.6 135.8L166.9 138.8M162.8 135.7L165.2 138.9M161.0 136.1L163.3 139.1M160.1 137.7L162.8 141.2M267.0 178.9L265.3 182.0M264.6 179.2L262.5 182.4M264.2 176.9L261.8 180.5M262.8 176.4L260.8 179.6M251.5 160.9L249.3 163.8M249.1 161.3L247.3 164.1M231.5 95.3L236.1 100.5M230.9 97.0L234.5 101.3M229.8 97.5L233.9 102.5M266.3 116.9L268.1 119.8M264.9 117.8L266.7 120.9M263.3 118.2L264.9 120.3M263.6 121.4L265.1 123.3M269.7 98.6L269.7 105.5M267.7 99.1L268.0 103.9M266.0 98.2L266.7 105.4M265.5 98.4L265.1 105.4M283.2 160.2L284.3 164.6M282.1 160.2L282.6 164.3M198.3 151.2L199.7 156.5M195.9 149.4L197.7 156.3M194.6 78.9L188.5 80.5M194.6 77.2L187.9 78.8M152.0 104.6L146.5 106.2M150.8 103.7L146.1 104.9M149.7 102.4L143.9 103.9M197.8 173.5L200.6 177.2M195.7 173.5L199.7 177.9M284.8 141.6L288.4 146.2M283.1 141.5L287.4 147.2M253.8 73.3L252.7 80.2M253.0 71.8L251.1 78.7M190.9 79.9L192.5 83.8M189.5 79.6L190.6 82.5M188.2 80.0L189.4 83.7M247.8 113.3L245.7 114.5M248.4 110.8L246.0 112.2M248.1 109.4L245.2 110.9M244.7 109.4L242.4 110.8M194.1 87.6L197.6 89.6M193.5 89.1L197.6 91.4M244.9 87.7L247.6 89.8M242.6 87.8L244.9 89.5M184.7 161.1L181.7 164.9M184.2 159.5L181.4 162.8M183.4 158.2L180.6 161.1M184.1 133.4L191.9 134.6M182.0 134.4L190.1 135.7M181.6 136.2L189.8 136.8M182.9 138.6L189.6 138.7M235.9 187.0L232.0 190.0M234.3 185.9L231.1 188.7M183.9 174.5L181.7 176.5M184.3 172.7L182.1 174.7M182.6 172.3L180.4 174.1M181.9 170.7L180.1 172.3M206.9 120.6L208.1 128.7M204.6 120.9L206.3 127.5M203.5 122.1L205.4 130.0M202.7 122.1L203.8 130.2M167.6 69.9L176.4 73.0M166.6 71.1L173.0 73.3M241.2 83.9L245.5 90.3M239.3 84.1L243.4 90.6M238.7 84.6L241.8 91.2M266.4 116.7L270.3 120.8M265.1 117.1L268.8 120.9M264.5 119.2L267.5 121.7M263.9 120.5L267.3 123.7M218.3 93.7L214.5 96.8M216.9 92.8L212.8 95.8M231.6 158.9L227.4 162.8M231.1 158.2L225.3 162.6M229.2 157.7L225.1 161.1M229.5 155.2L224.6 160.1M250.5 194.4L252.4 201.9M249.5 195.7L250.6 202.6M247.8 196.3L249.4 201.9M198.8 130.2L196.0 132.5M197.0 129.4L194.6 131.5M158.2 204.3L158.3 207.2M156.1 205.0L156.4 207.5M154.7 203.6L155.0 207.1M153.6 205.4L153.8 208.7M192.2 93.6L198.9 97.1M193.5 95.7L201.0 99.3M192.0 96.4L197.7 99.2M176.5 126.5L172.8 130.4M174.0 126.5L170.5 130.5M174.1 124.2L170.1 128.7M165.9 157.4L168.3 163.6M164.4 158.3L167.0 164.5M276.8 73.9L279.0 74.9M274.3 74.3L276.8 75.8M177.1 73.6L173.3 76.3M178.5 71.3L173.7 74.3M156.8 195.0L152.7 199.2M155.6 194.4L150.2 199.9M154.5 192.3L149.5 198.7M154.5 191.4L149.5 196.7M280.7 127.1L278.1 129.1M280.2 125.3L276.6 127.7M279.7 123.9L276.9 126.0M278.1 123.0L274.5 125.0M179.8 182.9L181.9 188.3M178.6 184.9L181.2 190.0M175.0 87.6L179.1 92.9M173.9 89.1L176.7 93.1M172.0 88.6L175.0 92.9M171.1 90.9L174.2 95.2M218.3 146.8L214.7 149.7M217.3 145.6L213.1 148.9M286.0 170.4L290.1 174.0M283.7 170.4L288.3 174.1M161.2 83.6L166.8 86.0M159.7 84.1L164.9 87.2M160.8 86.4L166.9 90.0M160.8 88.2L165.8 90.9M163.2 192.8L162.1 195.3M162.1 192.7L161.1 195.4M160.8 190.9L159.8 194.3M159.0 191.5L158.1 194.4M208.3 196.3L202.8 197.5M206.9 195.0L201.6 196.0M227.1 67.8L228.0 73.0M225.2 68.6L225.8 72.1M223.9 68.4L224.6 73.2M222.8 70.0L223.5 74.4M253.8 176.6L258.9 180.5M252.7 178.3L258.0 181.9M251.4 179.5L259.1 184.5M238.9 126.6L244.8 127.3M235.8 128.4L242.9 128.6M236.5 130.1L243.1 130.2M236.2 131.1L241.9 131.8M219.8 103.5L215.2 105.0M221.3 101.5L217.3 102.3M259.1 147.1L265.2 151.2M256.9 147.5L262.5 152.0M256.1 149.4L263.6 154.3M255.8 150.3L261.4 154.9M163.4 196.5L156.6 198.1M163.3 195.0L156.7 196.1M162.6 193.6L156.7 194.4M170.7 97.6L163.6 99.0M172.3 96.0L164.0 97.6M179.2 197.3L175.9 198.6M179.6 195.4L176.0 196.9M179.8 195.1L182.1 197.7M179.1 196.8L181.8 200.0M285.9 152.8L280.0 156.6M284.0 152.2L279.4 155.3M283.0 150.8L278.3 154.6M224.6 144.7L230.0 146.8M223.8 145.5L229.0 147.8M225.5 148.2L229.7 150.1M169.5 189.9L175.6 191.7M167.2 191.3L174.4 193.2M168.6 193.5L175.8 195.0M166.9 194.6L173.0 196.0M287.3 130.9L289.2 134.7M286.3 132.2L288.6 136.5M284.3 131.9L287.1 137.0M282.6 131.6L285.9 137.0M195.2 97.3L193.0 100.1M194.2 96.1L192.7 97.8M192.3 96.0L190.3 98.8M285.4 207.2L278.5 210.0M284.1 205.4L278.5 208.1M282.6 204.6L276.3 207.2M282.0 203.0L276.8 205.1M155.5 100.6L157.3 106.8M153.7 102.0L155.6 108.1M152.1 101.4L153.9 107.2M151.3 101.9L152.7 107.9M184.5 137.0L180.1 139.7M184.8 135.1L180.8 137.7M182.7 135.1L178.2 137.7M274.7 204.3L272.1 205.5M274.7 202.4L271.7 204.3M273.8 201.2L271.5 202.5M205.6 174.2L201.6 177.1M205.2 172.7L200.4 175.3M203.1 172.0L199.4 174.5M159.5 135.3L162.5 139.4M159.7 137.9L162.1 141.6M158.2 138.6L160.7 142.3M264.7 202.4L259.9 204.9M263.8 201.0L258.0 203.7M194.9 91.2L196.8 94.9M192.6 90.3L194.6 95.3M191.7 92.5L193.4 96.2M190.4 92.5L193.3 97.8M258.7 202.8L254.7 206.8M258.4 201.4L254.1 205.5M255.8 201.8L251.2 205.4M206.2 179.2L204.1 182.3M204.2 179.7L201.6 183.2M168.5 115.1L168.3 117.8M167.2 112.7L167.2 116.6M166.1 113.4L165.8 116.1M219.9 126.3L222.5 128.7M217.6 126.2L220.8 129.1M217.9 128.7L219.9 130.9M265.6 173.8L269.5 174.3M263.5 174.9L267.6 175.6M265.5 176.7L269.6 177.8M263.9 177.7L267.1 178.2M184.4 135.7L181.6 136.3M185.9 133.8L181.8 134.4M185.1 132.5L181.3 133.2M182.7 131.6L178.6 132.3M208.3 89.7L210.3 98.1M206.1 89.1L208.6 96.8M205.3 90.6L206.8 97.0M203.7 93.2L205.9 99.1M155.0 195.4L156.9 198.1M153.2 196.7L155.4 199.3M151.7 197.3L153.4 199.3M151.4 199.0L153.2 201.0M287.6 150.4L285.2 153.0M287.7 148.1L285.3 150.7M180.0 129.5L173.0 131.5M178.7 128.4L172.8 129.8M169.4 167.2L163.3 170.9M167.6 166.0L162.3 169.7M167.9 164.4L161.8 168.4M159.0 183.3L155.2 185.3M158.3 182.2L154.4 184.1M177.6 180.6L176.9 184.8M175.9 181.3L175.3 185.5M213.2 152.9L215.1 157.1M211.8 153.6L213.6 156.8M210.1 154.1L212.2 157.7M162.8 124.4L166.4 126.1M163.2 126.5L166.3 128.0M163.9 128.7L167.6 130.2M143.8 150.3L145.9 156.4M142.9 151.0L144.6 158.0M141.3 151.7L142.5 156.7M139.9 107.8L145.1 111.9M139.2 108.6L143.9 112.9M136.6 108.1L142.5 113.8M269.3 122.6L263.7 130.3M266.9 122.9L261.8 129.1M266.4 119.9L262.3 126.6M263.9 121.4L260.4 127.2M183.6 111.9L182.9 119.6M182.6 111.3L181.2 120.2M180.7 111.4L179.9 118.9M179.7 111.2L178.4 117.6M154.3 82.0L150.7 83.6M154.7 79.8L151.5 81.6M188.6 117.9L183.8 119.1M185.4 116.8L182.1 117.7M241.2 96.6L239.0 102.5M239.6 97.3L236.9 102.9M238.0 96.3L236.2 101.6M237.2 95.8L235.0 99.9M232.8 197.1L224.6 200.7M232.4 196.0L224.2 199.3M173.5 111.3L176.7 115.3M173.7 114.0L177.0 117.6M225.4 84.9L221.3 86.4M225.6 82.6L221.3 84.7M223.7 82.0L219.0 84.1M225.1 79.4L220.2 81.3M139.1 145.4L146.2 147.9M137.9 146.5L144.3 149.1M138.2 148.1L144.9 151.0M137.2 149.2L144.5 152.7M261.2 83.0L264.8 85.0M260.7 84.3L263.4 86.2M260.0 85.6L262.9 87.4M273.9 75.0L277.0 80.8M272.8 75.4L275.2 81.4M223.9 83.6L229.3 86.7M221.7 84.6L228.7 88.2M221.8 85.9L227.4 89.4M154.0 137.8L151.7 138.4M154.8 135.8L152.4 136.5M152.2 134.7L149.0 135.6M152.5 133.6L150.4 134.0M158.4 135.7L163.0 141.5M156.8 136.5L161.4 141.7M262.3 182.6L259.8 185.8M259.3 183.5L256.8 186.8M258.4 182.9L255.6 186.0M284.9 85.9L281.7 86.8M283.6 84.8L281.2 85.2M283.7 83.2L281.3 83.7M283.8 81.2L280.3 81.7" stroke="#f3f6f9" stroke-width="0.9" fill="none" stroke-linecap="round"/>
<ellipse cx="266.8" cy="164" rx="4" ry="2.6" fill="#eef3f9"/><ellipse cx="173.9" cy="94.5" rx="2.3" ry="1.9" fill="#eef3f9"/>
</g></g>
<!-- hair -->
<path d="M195 121 C193 117 193 113 193.4 111 C194 106 195.5 100 196.5 95.6 C198 90 200.3 85 203.6 80.5 C204.8 78 206 76 207.6 74.5 C208.8 72.6 210 71 212 70.4 L223.8 70.4 C225.8 71 227 72.6 227.8 74.5 C228.6 76.3 229.2 78.2 229.5 80.1 C230.2 84 230.6 87.5 231 91 C231.8 95.5 232.6 99.5 233.2 103.3 C233.8 107 234.2 110 234.3 112.5 L224 112 L210 112 Z" fill="#0b0b0b"/>
<!-- face + neck -->
<path d="M208.7 79.5 L226.6 79.5 L226.6 94 C226 98.5 224.5 102 222.5 104.8 L222.5 110 L213.3 110 L213.3 104.6 C211.2 101.5 209.8 98 209.2 94 Z" fill="#8a5a3c"/>
<!-- raised forearm/hand -->
<path d="M236.4 97.5 L244.2 101 L249.8 112 L255 122.5 L243 124 L239.6 112 Z" fill="#82502f"/>
<!-- sweater -->
<path d="M211.8 107.2 L225 107.2 L225 110 C231 113 237 117 241.6 120 L243 123.5 L255 121.8 C256.5 129 258 136 259.3 143 C260 146.5 259.3 149.5 257 151.3 C254.5 153 251 152.8 248.8 151 L241.5 145 L240 152 L239.8 169 L194 169 L193.5 166 L167.5 182 L163.3 177.5 L184.6 152.5 C187 147 189.2 141.5 190.8 137 C192 131.5 193.5 126 195.5 122 L196 121 C200 118 206 114.5 211.8 110 Z" fill="#4a73c5"/>
<!-- left hand -->
<path d="M163.6 177.8 L167.3 181.6 C165 183.6 162 185 159 185.6 C157 186 155.5 187 154 187.6 C152.5 188 151.5 187 152 185.8 C151 185.5 150.3 184.6 150.8 183.6 C153 180.5 158 178.2 163.6 177.8 Z" fill="#6f432f"/>
<!-- pants -->
<path d="M194 169 L239.6 169 C242 173 243.3 177 243.8 181.8 C244.8 189 245.3 196 245.3 203 C245.3 213 244.5 223 242.8 231.6 C241.5 235.5 238 237.5 233.2 237.5 C228 237.5 223.5 236 221.6 232.6 C220 226 218.6 218 217.3 211.4 C216 218 214 227 212 233.7 C210 236.5 206.5 237.6 202.5 237.5 C198 237.3 194.5 235.5 193 232.6 C191.3 228 190.6 224 190.4 220 C190 211 189.6 201 189.8 192.4 C190.2 183 191.5 175 194 169 Z" fill="#7d8a95"/>
<!-- telescope -->
<path d="M212.6 87.2 L256.3 84.3 L259 104 L252 103.8 L232.3 96.4 L213.2 90.2 Z" fill="#1d55b3"/>
<ellipse cx="257.8" cy="94.2" rx="9.9" ry="9.7" fill="#2a5dba"/>
<ellipse cx="257.6" cy="94" rx="8.5" ry="8.2" fill="#4b7b98"/>
<g fill="#33649c"><circle cx="254" cy="92" r="1.7"/><circle cx="261" cy="96.5" r="1.9"/><circle cx="258" cy="99.6" r="1.3"/><circle cx="260" cy="89" r="1.5"/><circle cx="252.5" cy="97.3" r="1.2"/><circle cx="263" cy="92" r="1.2"/></g>
<g fill="#6f9a70">
<circle cx="254" cy="89.5" r="1"/><circle cx="258" cy="88" r="0.9"/><circle cx="261.8" cy="91" r="1"/><circle cx="256" cy="94" r="1.1"/><circle cx="260" cy="94.5" r="0.9"/><circle cx="253" cy="95.8" r="0.9"/><circle cx="257.5" cy="98" r="1"/><circle cx="262.5" cy="98" r="0.9"/><circle cx="259" cy="91.5" r="0.8"/><circle cx="255" cy="99.6" r="0.8"/><circle cx="263.6" cy="94.4" r="0.8"/><circle cx="251.6" cy="92.8" r="0.8"/><circle cx="260" cy="100.2" r="0.8"/>
</g>
<g fill="#a3b36c"><circle cx="256.5" cy="91.3" r="0.6"/><circle cx="260.5" cy="97.3" r="0.6"/><circle cx="254.5" cy="95" r="0.6"/><circle cx="257" cy="96.3" r="0.6"/></g>
<!-- face details -->
<path d="M210 83.6 L214.8 83.3" stroke="#4a2d1f" stroke-width="0.8"/>
<path d="M216.2 99.6 L221.6 99.6" stroke="#5e3524" stroke-width="1.1"/>
<path d="M218.8 93 L219.6 96.2 L217.8 96.2" stroke="#6f4530" stroke-width="0.7" fill="none"/>
<!-- bars -->
<g shape-rendering="geometricPrecision">
<rect x="347" y="113" width="106.2" height="31.5" fill="#1149a2"/>
<rect x="452.9" y="113" width="137.2" height="31.5" fill="#7d9bcf"/>
<rect x="589.9" y="113" width="59.6" height="31.5" fill="#e87524"/>
<rect x="649.3" y="113" width="9.7" height="31.5" fill="#9c9c9c"/>
<rect x="347" y="154.3" width="44.5" height="15.1" fill="#5683c3"/>
<rect x="391.3" y="154.3" width="167.6" height="15.1" fill="#a5b9dd"/>
<rect x="558.7" y="154.3" width="90.8" height="15.1" fill="#eca273"/>
<rect x="649.3" y="154.3" width="9.7" height="15.1" fill="#bdbdbd"/>
<rect x="347" y="181.5" width="9.5" height="15.1" fill="#5683c3"/>
<rect x="356.3" y="181.5" width="187.2" height="15.1" fill="#a5b9dd"/>
<rect x="543.3" y="181.5" width="109.4" height="15.1" fill="#eca273"/>
<rect x="652.5" y="181.5" width="6.5" height="15.1" fill="#bdbdbd"/>
<rect x="276.8" y="226" width="22" height="8.1" fill="#1149a2"/>
<rect x="382.4" y="226" width="22.1" height="8.1" fill="#7d9bcf"/>
<rect x="501.8" y="226" width="22" height="8.1" fill="#e87524"/>
<rect x="611.8" y="226" width="22.4" height="8.1" fill="#9c9c9c"/>
</g>
<!-- dotted leader -->
<path d="M326 54.3 H687.3 V72.5" stroke="#2f5fae" stroke-width="1.3" stroke-dasharray="1.2 1.95" fill="none"/>
<path d="M676.1 63.2 A16.2 16.2 0 1 0 698.9 63.2" stroke="#2b5aa8" stroke-width="1.2" fill="none"/>
<circle cx="687.3" cy="76" r="2.9" fill="#164a9c"/>
<!-- table column lines -->
<path d="M227.15 274.3V390M344.2 274.3V390M461.25 274.3V390M578.3 274.3V390" stroke="#5c5c5c" stroke-width="1"/>
</svg>
<div class="t blue b" id="t0" style="left:138.1px;top:38.9px;font-size:18.3px;transform:scaleX(0.9610);-webkit-text-stroke:0.35px #164a9c;">Outlook on the future</div>
<div class="t blue b" id="t1" style="left:356.2px;top:71.6px;font-size:12.1px;transform:scaleX(0.9800);">Young Europeans are more optimistic about</div>
<div class="t blue b" id="t2" style="left:401.5px;top:86.6px;font-size:12.1px;transform:scaleX(0.9723);">their future living standards</div>
<div class="t b gry" id="t3" style="left:292.5px;top:123.8px;font-size:12.6px;transform:scaleX(1.0254);">15 – 30</div>
<div class="t b gry" id="t4" style="left:301.5px;top:158.2px;font-size:10.2px;transform:scaleX(1.0029);">31 – 64</div>
<div class="t b gry" id="t5" style="left:316.0px;top:186.0px;font-size:10.2px;transform:scaleX(0.9739);">65 +</div>
<div class="t w" id="t6" style="left:390.1px;top:122.5px;font-size:15.9px;transform:scaleX(1.1590);">34</div>
<div class="t w" id="t7" style="left:510.0px;top:122.5px;font-size:15.9px;transform:scaleX(1.2721);">44</div>
<div class="t w" id="t8" style="left:609.8px;top:122.5px;font-size:15.9px;transform:scaleX(1.1025);">19</div>
<div class="t w" id="t9" style="left:362.3px;top:157.9px;font-size:11.0px;transform:scaleX(1.0612);">14</div>
<div class="t w" id="t10" style="left:468.2px;top:157.9px;font-size:11.0px;transform:scaleX(1.1020);">54</div>
<div class="t w" id="t11" style="left:597.2px;top:157.9px;font-size:11.0px;transform:scaleX(1.1020);">29</div>
<div class="t w" id="t12" style="left:348.9px;top:184.8px;font-size:11.0px;transform:scaleX(1.0286);">3</div>
<div class="t w" id="t13" style="left:442.7px;top:184.8px;font-size:11.0px;transform:scaleX(1.1265);">60</div>
<div class="t w" id="t14" style="left:597.2px;top:184.8px;font-size:11.0px;transform:scaleX(1.1020);">35</div>
<div class="t lg" id="t15" style="left:276.8px;top:211.7px;font-size:9.8px;transform:scaleX(0.9375);">Your standard of living...</div>
<div class="t lg" id="t16" style="left:305.5px;top:224.5px;font-size:9.8px;transform:scaleX(0.8996);">... will increase</div>
<div class="t lg" id="t17" style="left:410.6px;top:224.5px;font-size:9.8px;transform:scaleX(0.9260);">... will not change</div>
<div class="t lg" id="t18" style="left:530.5px;top:224.5px;font-size:9.8px;transform:scaleX(0.9018);">... will decrease</div>
<div class="t lg" id="t19" style="left:641.0px;top:224.5px;font-size:9.8px;transform:scaleX(0.9528);">Don't know</div>
<div class="t blue b" id="t20" style="left:155.6px;top:252.1px;font-size:13.2px;transform:scaleX(0.9299);">Overall,</div>
<div class="t blue b" id="t21" style="left:203.3px;top:252.1px;font-size:13.2px;transform:scaleX(0.9475);">they</div>
<div class="t blue b" id="t22" style="left:232.8px;top:252.1px;font-size:13.2px;transform:scaleX(0.8985);">express</div>
<div class="t blue b" id="t23" style="left:280.8px;top:252.1px;font-size:13.2px;transform:scaleX(0.9356);">higher</div>
<div class="t blue b" id="t24" style="left:321.4px;top:252.1px;font-size:13.2px;transform:scaleX(0.8890);">levels</div>
<div class="t blue b" id="t25" style="left:357.4px;top:252.1px;font-size:13.2px;transform:scaleX(0.8753);">of</div>
<div class="t blue b" id="t26" style="left:370.8px;top:252.1px;font-size:13.2px;transform:scaleX(0.9723);">optimism</div>
<div class="t blue b" id="t27" style="left:433.1px;top:252.1px;font-size:13.2px;transform:scaleX(0.9023);">about</div>
<div class="t blue b" id="t28" style="left:468.9px;top:252.1px;font-size:13.2px;transform:scaleX(0.9302);">the</div>
<div class="t blue b" id="t29" style="left:490.7px;top:252.1px;font-size:13.2px;transform:scaleX(0.9659);">future</div>
<div class="t blue b" id="t30" style="left:530.3px;top:252.1px;font-size:13.2px;transform:scaleX(0.8599);">compared</div>
<div class="t blue b" id="t31" style="left:587.2px;top:252.1px;font-size:13.2px;transform:scaleX(0.9877);">to</div>
<div class="t blue b" id="t32" style="left:602.9px;top:252.1px;font-size:13.2px;transform:scaleX(0.9860);">older</div>
<div class="t blue b" id="t33" style="left:638.1px;top:252.1px;font-size:13.2px;transform:scaleX(0.9902);">citizens</div>
<div class="t blue b" id="t34" style="left:163.8px;top:317.0px;font-size:13.0px;transform:scaleX(1.0144);">15 – 30</div>
<div class="t blue b" id="t35" style="left:165.7px;top:347.3px;font-size:12.3px;transform:scaleX(0.9895);">31 – 64</div>
<div class="t blue b" id="t36" style="left:175.5px;top:371.1px;font-size:12.3px;transform:scaleX(1.0067);">65+</div>
<div class="t b chd" id="t37" style="left:264.3px;top:279.3px;font-size:8.5px;transform:scaleX(1.0688);">About the</div>
<div class="t b chd" id="t38" style="left:273.4px;top:288.4px;font-size:8.5px;transform:scaleX(1.0718);">world</div>
<div class="t b chd" id="t39" style="left:381.6px;top:279.3px;font-size:8.5px;transform:scaleX(1.0688);">About the</div>
<div class="t b chd" id="t40" style="left:397.1px;top:288.4px;font-size:8.5px;transform:scaleX(0.9735);">EU</div>
<div class="t b chd" id="t41" style="left:495.7px;top:279.3px;font-size:8.5px;transform:scaleX(1.0722);">About their</div>
<div class="t b chd" id="t42" style="left:503.5px;top:288.4px;font-size:8.5px;transform:scaleX(1.0586);">country</div>
<div class="t b chd" id="t43" style="left:611.9px;top:274.5px;font-size:8.5px;transform:scaleX(1.0744);">About their</div>
<div class="t b chd" id="t44" style="left:614.0px;top:283.2px;font-size:8.5px;transform:scaleX(1.0583);">family and</div>
<div class="t b chd" id="t45" style="left:611.9px;top:291.9px;font-size:8.5px;transform:scaleX(1.0516);">themselves</div>
<div class="t blue b big" id="t46" style="left:267.8px;top:312.3px;font-size:24.0px;transform:scaleX(1.0581);">50<i>%</i></div>
<div class="t blue b big" id="t47" style="left:384.4px;top:312.3px;font-size:24.0px;transform:scaleX(1.0581);">65<i>%</i></div>
<div class="t blue b big" id="t48" style="left:501.4px;top:312.3px;font-size:24.0px;transform:scaleX(1.0581);">60<i>%</i></div>
<div class="t blue b big" id="t49" style="left:617.4px;top:312.3px;font-size:24.0px;transform:scaleX(1.0581);">80<i>%</i></div>
<div class="t blue b mid" id="t50" style="left:273.8px;top:346.2px;font-size:14.2px;transform:scaleX(1.0823);">42<i>%</i></div>
<div class="t blue b mid" id="t51" style="left:390.9px;top:346.2px;font-size:14.2px;transform:scaleX(1.0823);">57<i>%</i></div>
<div class="t blue b mid" id="t52" style="left:507.9px;top:346.2px;font-size:14.2px;transform:scaleX(1.0823);">57<i>%</i></div>
<div class="t blue b mid" id="t53" style="left:623.9px;top:346.2px;font-size:14.2px;transform:scaleX(1.0823);">78<i>%</i></div>
<div class="t blue b mid" id="t54" style="left:273.8px;top:369.7px;font-size:14.2px;transform:scaleX(1.0823);">38<i>%</i></div>
<div class="t blue b mid" id="t55" style="left:390.9px;top:369.7px;font-size:14.2px;transform:scaleX(1.0823);">53<i>%</i></div>
<div class="t blue b mid" id="t56" style="left:507.9px;top:369.7px;font-size:14.2px;transform:scaleX(1.0823);">53<i>%</i></div>
<div class="t blue b mid" id="t57" style="left:623.9px;top:369.7px;font-size:14.2px;transform:scaleX(1.0823);">69<i>%</i></div>
</body></html>
